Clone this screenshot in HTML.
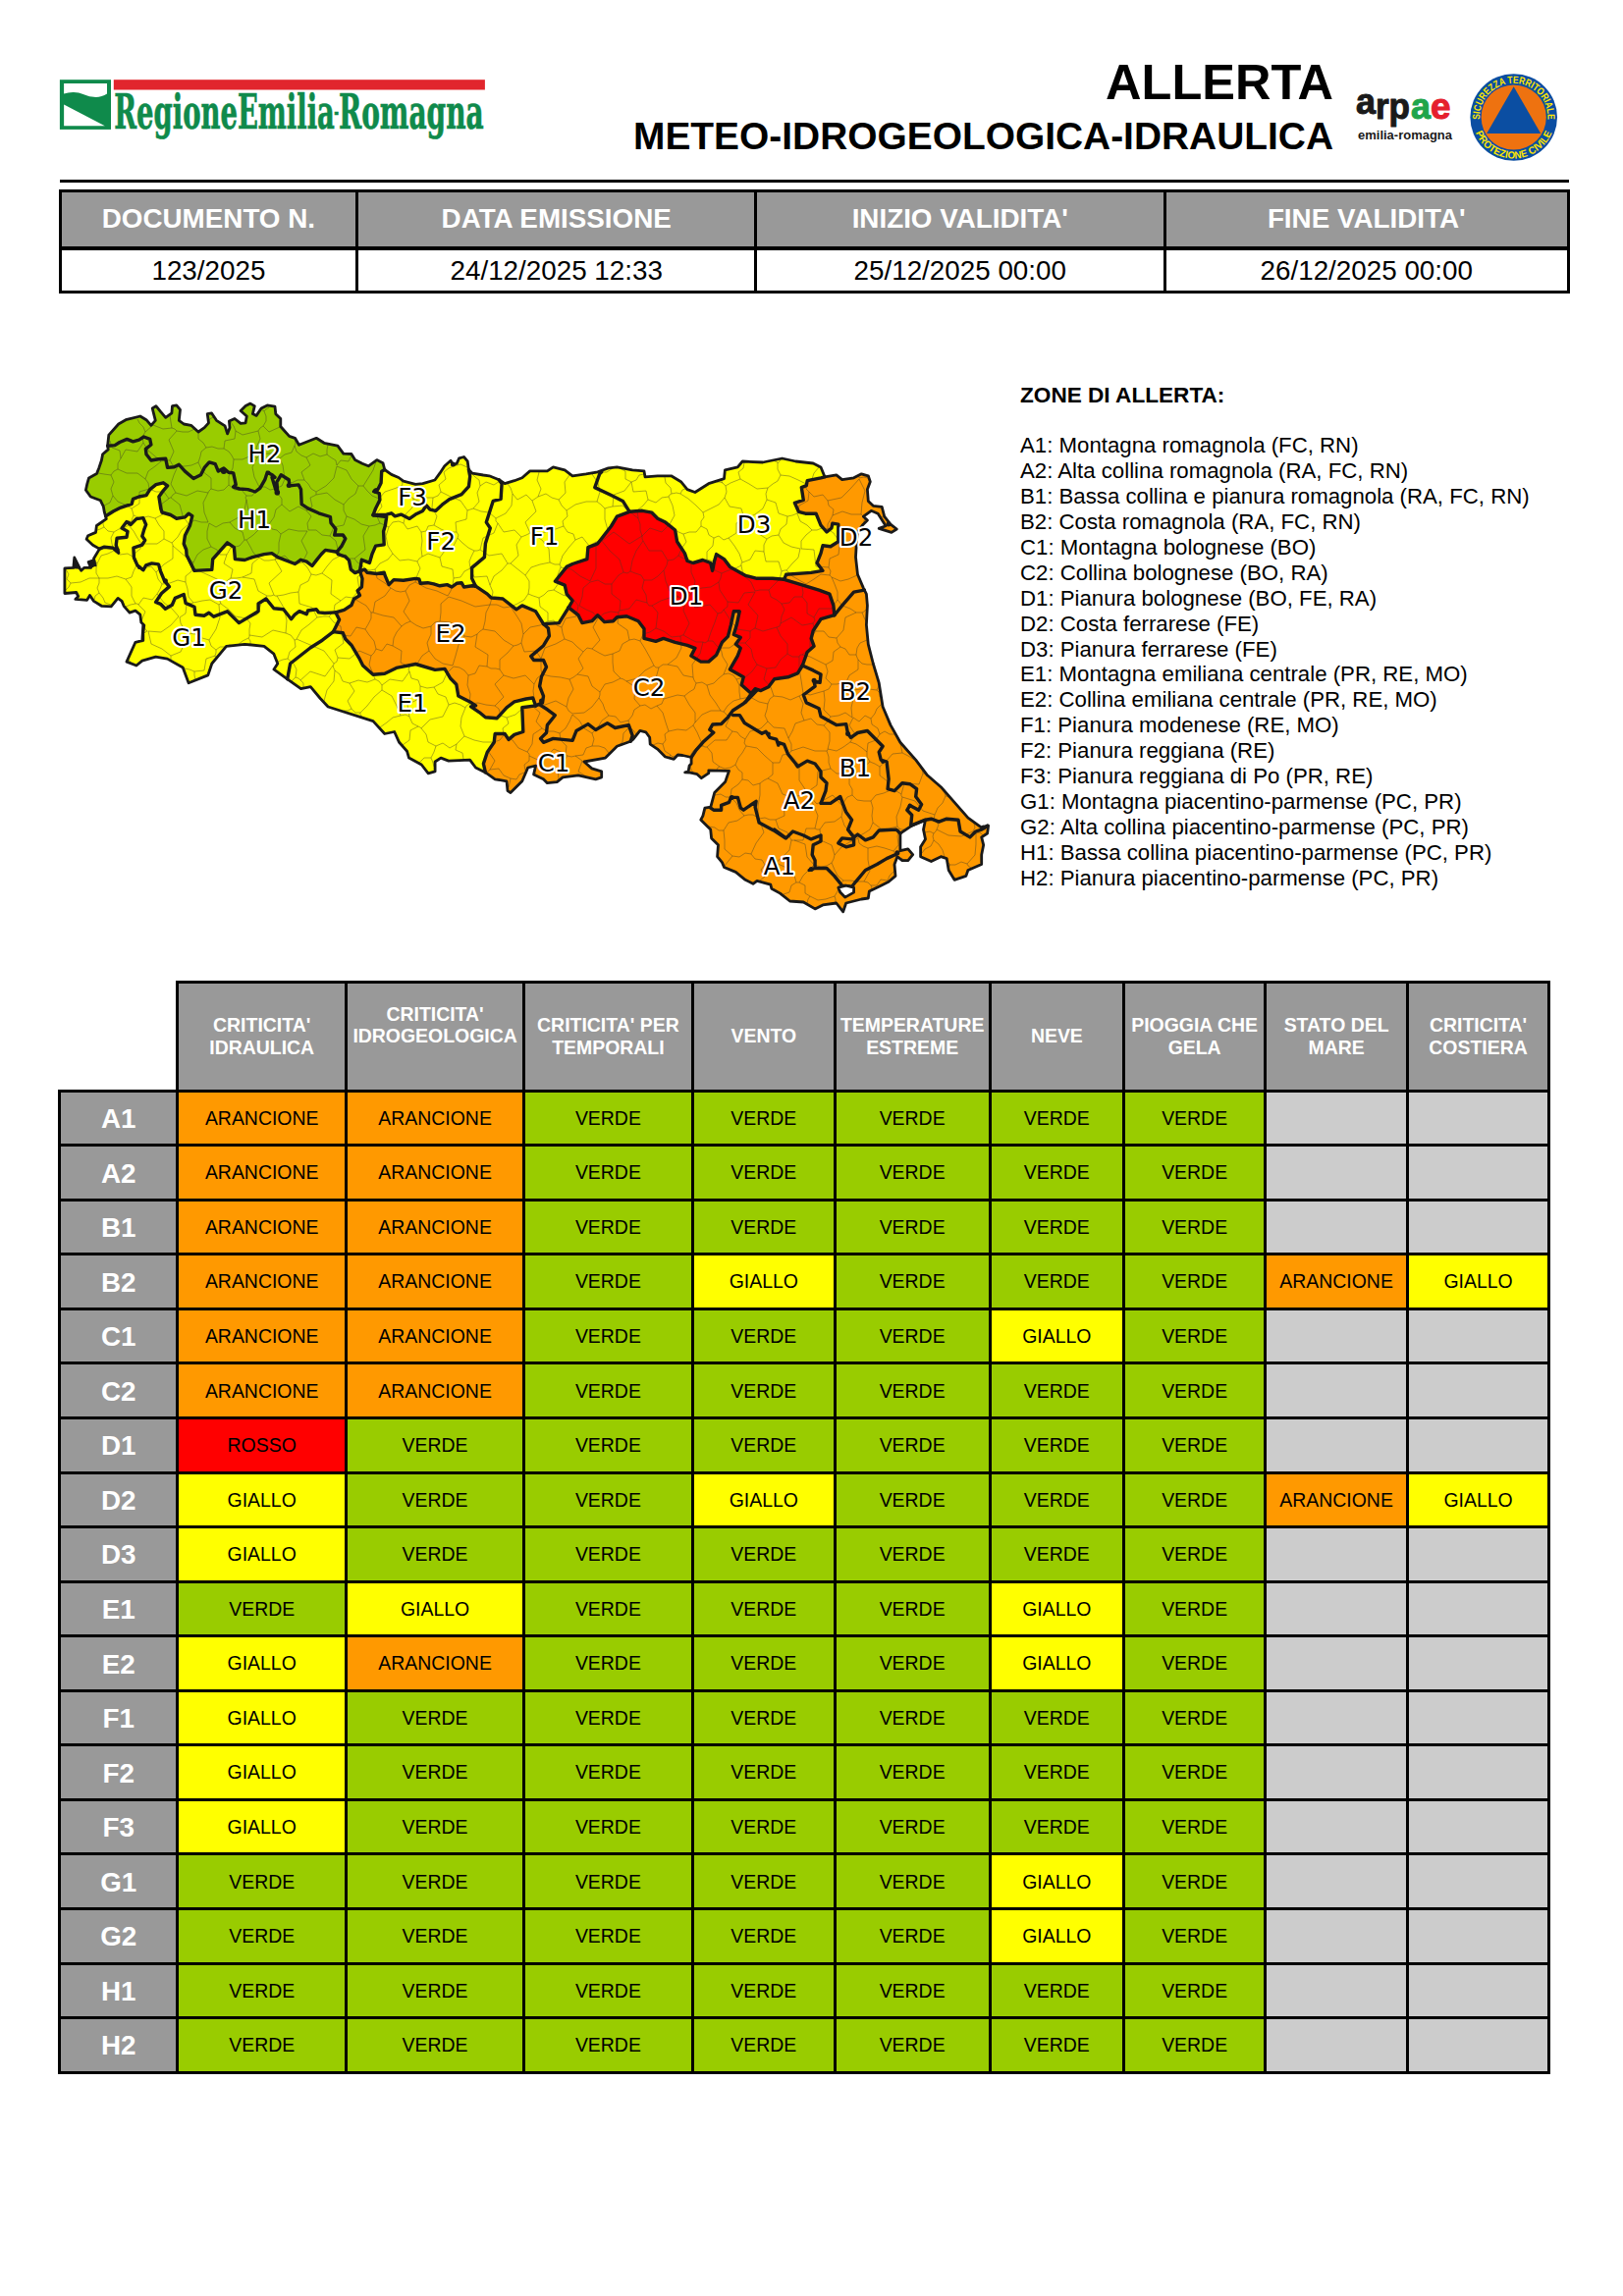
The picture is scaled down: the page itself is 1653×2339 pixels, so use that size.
<!DOCTYPE html>
<html lang="it">
<head>
<meta charset="utf-8">
<title>Allerta meteo-idrogeologica-idraulica</title>
<style>
html,body{margin:0;padding:0;background:#fff;}
body{width:1653px;height:2339px;position:relative;overflow:hidden;font-family:"Liberation Sans",sans-serif;color:#000;}
.abs{position:absolute;}
.c{position:absolute;display:flex;align-items:center;justify-content:center;text-align:center;white-space:nowrap;}
.ln{position:absolute;background:#000;}
.hd{color:#fff;font-weight:bold;}
.t1{font-size:27.8px;}
.th{font-size:19.44px;line-height:22.5px;font-weight:bold;color:#fff;white-space:normal;}
.zn{font-size:27.8px;font-weight:bold;color:#fff;}
.v{font-size:19.45px;}
#zones{position:absolute;left:1039px;top:389.6px;font-size:22.22px;line-height:25.89px;white-space:nowrap;}
#zones b{font-size:22.6px;}
</style>
</head>
<body>
<div class="abs" style="right:295px;top:59px;font-size:50.5px;font-weight:bold;line-height:50px;white-space:nowrap;" id="t_allerta">ALLERTA</div>
<div class="abs" style="right:295px;top:119px;font-size:38.9px;font-weight:bold;line-height:40px;white-space:nowrap;" id="t_meteo">METEO-IDROGEOLOGICA-IDRAULICA</div>
<svg class="abs" style="left:55px;top:75px;" width="450" height="75" viewBox="55 75 450 75">
<rect x="60.9" y="81.2" width="52.1" height="50.7" fill="#0f8a4b"/>
<path d="M65.1,85 H109 V95.6 C104.5,98.6 99,99.6 93.5,98.6 C87,97.4 82,93.6 74.2,93.9 C70.8,94 68,94.8 65.1,95.4 Z" fill="#fff"/>
<path d="M65.1,106.6 L106.8,128.2 H65.1 Z" fill="#fff"/>
<rect x="115.8" y="81.2" width="378.1" height="10.3" fill="#e1262d"/>
<g font-family="'DejaVu Serif',serif" font-stretch="condensed" font-weight="bold" font-size="49.3" fill="#0f8a4b" stroke="#0f8a4b" stroke-width="0.7">
<text x="116.3" y="131.4" textLength="224.6" lengthAdjust="spacingAndGlyphs">RegioneEmilia</text><text x="340.3" y="121.6" font-size="22" textLength="4.8" lengthAdjust="spacingAndGlyphs">-</text><text x="344.9" y="131.4" textLength="147.8" lengthAdjust="spacingAndGlyphs">Romagna</text>
</g>
</svg>
<svg class="abs" style="left:1375px;top:85px;" width="115" height="70" viewBox="1375 85 115 70">
<g font-family="'Liberation Sans',sans-serif" font-weight="bold" font-size="36" stroke-width="1" stroke-linejoin="round">
<text x="1381" y="115.5" fill="#1a1a1a" stroke="#1a1a1a" textLength="20" lengthAdjust="spacingAndGlyphs">a</text>
<text x="1401" y="121" fill="#1a1a1a" stroke="#1a1a1a" textLength="35" lengthAdjust="spacingAndGlyphs">rp</text>
<text x="1437" y="121" fill="#1fa54a" stroke="#1fa54a" textLength="20" lengthAdjust="spacingAndGlyphs">a</text>
<text x="1457" y="121" fill="#e5202e" stroke="#e5202e" textLength="20.5" lengthAdjust="spacingAndGlyphs">e</text>
</g>
<text x="1383" y="142" font-family="'Liberation Sans',sans-serif" font-weight="bold" font-size="12.6" fill="#1a1a1a" textLength="96" lengthAdjust="spacingAndGlyphs">emilia-romagna</text>
</svg>
<svg class="abs" style="left:1490px;top:68px;" width="104" height="104" viewBox="1490 68 104 104">
<circle cx="1541.7" cy="119.5" r="44.3" fill="#0b4ea2"/>
<circle cx="1541.7" cy="119.5" r="33.1" fill="#ee7210"/>
<path d="M1541.7,88.3 L1569.2,135.9 L1514.2,135.9 Z" fill="#0b4ea2"/>
<defs><path id="pc_top" d="M1507.29,123.12 A34.6,34.6 0 1 1 1576.11,123.12"/><path id="pc_bot" d="M1502.23,133.86 A42.0,42.0 0 0 0 1581.17,133.86"/></defs>
<g font-family="'Liberation Sans',sans-serif" font-weight="bold" font-size="10.4" fill="#ffe600" text-anchor="middle">
<text><textPath href="#pc_top" startOffset="50%" textLength="113" lengthAdjust="spacingAndGlyphs">SICUREZZA TERRITORIALE</textPath></text>
<text><textPath href="#pc_bot" startOffset="50%" textLength="99" lengthAdjust="spacingAndGlyphs">PROTEZIONE CIVILE</textPath></text>
</g>
</svg>
<div class="ln" style="left:61px;top:183px;width:1537px;height:3px;"></div>
<div class="abs" style="left:61.0px;top:194.6px;width:1536.5px;height:58.3px;background:#999999;"></div>
<div class="c hd t1" style="left:61.0px;top:195.0px;width:302.8px;height:56.3px;">DOCUMENTO N.</div>
<div class="c t1" style="left:61.0px;top:254.4px;width:302.8px;height:42.3px;">123/2025</div>
<div class="c hd t1" style="left:363.8px;top:195.0px;width:405.8px;height:56.3px;">DATA EMISSIONE</div>
<div class="c t1" style="left:363.8px;top:254.4px;width:405.8px;height:42.3px;">24/12/2025 12:33</div>
<div class="c hd t1" style="left:769.5px;top:195.0px;width:416.5px;height:56.3px;">INIZIO VALIDITA'</div>
<div class="c t1" style="left:769.5px;top:254.4px;width:416.5px;height:42.3px;">25/12/2025 00:00</div>
<div class="c hd t1" style="left:1186.0px;top:195.0px;width:411.5px;height:56.3px;">FINE VALIDITA'</div>
<div class="c t1" style="left:1186.0px;top:254.4px;width:411.5px;height:42.3px;">26/12/2025 00:00</div>
<div class="ln" style="left:59.5px;top:193.1px;width:3px;height:105.6px;"></div>
<div class="ln" style="left:362.2px;top:193.1px;width:3px;height:105.6px;"></div>
<div class="ln" style="left:768.0px;top:193.1px;width:3px;height:105.6px;"></div>
<div class="ln" style="left:1184.5px;top:193.1px;width:3px;height:105.6px;"></div>
<div class="ln" style="left:1596.0px;top:193.1px;width:3px;height:105.6px;"></div>
<div class="ln" style="left:59.5px;top:193.1px;width:1539.5px;height:3px;"></div>
<div class="ln" style="left:59.5px;top:250.7px;width:1539.5px;height:4.4px;"></div>
<div class="ln" style="left:59.5px;top:295.7px;width:1539.5px;height:3px;"></div>
<svg class="abs" style="left:0;top:380px;" width="1040" height="570" viewBox="0 380 1040 570">
<defs><clipPath id="rclip"><path d="M65.9,578.9 74.8,578.4 75.8,568.0 81.2,578.9 82.7,581.3 85.6,578.4 92.5,578.4 90.1,572.5 94.5,571.0 97.0,575.9 95.5,569.0 101.4,559.1 94.5,555.2 88.1,549.3 89.6,545.8 97.5,542.4 98.4,535.5 108.3,528.6 106.3,521.7 105.3,515.8 102.2,509.7 92.3,506.0 87.4,499.2 88.6,493.7 90.5,486.9 98.5,482.6 100.9,476.4 103.4,469.0 104.6,462.8 110.2,457.9 109.6,454.2 110.8,443.1 120.7,432.0 128.1,427.7 142.8,424.0 149.0,427.7 153.9,433.3 158.3,428.3 155.2,416.0 158.9,413.6 163.8,419.7 168.7,425.3 174.9,420.9 175.5,413.6 179.8,412.9 183.5,417.3 182.3,428.3 187.2,432.0 194.6,433.3 202.0,440.0 208.2,435.7 212.5,430.8 211.2,421.6 215.6,420.9 220.5,428.3 229.1,433.9 231.6,441.9 234.0,435.7 233.4,429.0 239.0,426.5 245.1,431.4 250.1,430.8 251.3,424.0 245.1,418.5 250.1,413.6 255.0,411.1 259.3,413.6 257.4,421.6 261.1,423.4 266.1,416.0 272.2,412.9 280.0,414.2 280.8,421.7 285.8,426.6 285.8,434.5 294.6,444.4 300.5,446.3 304.5,453.2 322.2,446.3 330.1,451.3 343.9,454.2 349.8,462.1 357.9,462.5 361.6,468.6 369.0,472.3 375.2,474.8 383.8,468.6 390.0,471.7 391.8,478.5 398.6,483.4 406.0,486.5 410.9,490.2 423.2,493.3 430.6,492.7 442.9,489.0 447.9,482.2 452.8,474.8 459.0,469.2 461.4,473.6 465.1,472.3 467.6,466.8 472.5,465.5 476.2,469.9 477.4,478.5 481.1,482.2 492.2,484.0 498.3,484.8 508.2,488.7 514.1,492.7 523.9,489.7 531.8,486.8 539.7,479.9 557.4,479.9 563.4,475.9 575.2,478.9 583.1,484.8 596.9,482.8 608.7,480.8 619.6,476.9 628.4,475.9 644.2,478.9 656.0,479.9 657.0,485.8 669.8,484.8 683.6,484.8 693.5,490.7 700.0,498.6 707.9,501.5 721.7,492.7 737.5,487.7 738.4,478.9 751.3,475.9 756.2,470.0 776.9,471.0 796.6,467.0 810.4,470.0 828.2,472.0 836.0,475.9 840.0,485.8 851.8,483.8 857.7,488.7 869.6,486.8 877.4,482.8 884.3,484.8 886.3,490.7 883.4,498.6 884.3,510.4 889.3,515.3 898.2,516.3 900.7,526.2 907.0,534.1 913.3,539.0 908.0,542.4 895.2,538.4 902.1,535.7 894.2,523.2 887.3,520.3 879.4,526.2 883.4,530.1 878.4,535.1 873.5,542.0 872.5,549.8 871.5,567.6 873.5,585.3 879.4,599.1 882.4,605.1 883.4,616.9 882.4,636.6 884.3,656.3 889.3,676.0 895.2,695.7 899.1,720.0 907.0,738.6 916.9,756.3 932.7,774.1 944.5,789.8 958.3,801.7 972.1,817.4 985.9,833.2 999.7,843.1 1006.6,841.1 1005.6,849.0 999.7,852.9 1001.7,860.8 999.7,870.7 999.7,880.5 985.9,886.5 983.9,892.4 972.1,896.3 966.2,886.5 964.2,874.6 958.3,872.7 948.4,877.6 937.6,872.7 937.6,862.8 942.5,854.9 940.5,845.1 942.5,835.2 928.7,841.1 916.9,849.0 916.9,866.7 924.8,864.8 929.7,870.7 924.8,876.6 918.9,876.6 913.9,872.7 911.0,880.5 912.0,892.4 905.1,898.3 897.2,902.2 885.3,908.1 884.3,915.0 877.4,916.0 861.7,920.0 858.7,928.8 851.8,920.0 838.0,921.9 830.1,925.9 818.3,919.0 804.5,918.0 794.6,910.1 785.8,905.2 784.8,901.2 771.0,897.3 767.0,900.3 759.1,896.3 749.3,888.4 737.5,883.5 735.5,878.6 730.6,872.7 731.5,860.8 724.6,853.9 723.7,845.1 713.8,835.2 715.9,831.1 717.9,823.2 723.8,822.2 724.8,818.3 727.7,807.5 738.6,796.6 742.5,785.3 721.8,784.8 721.8,787.7 714.4,792.7 710.0,788.7 703.1,787.2 697.7,786.8 701.1,785.8 702.1,779.9 704.1,777.9 704.1,771.5 695.2,769.5 690.3,769.0 686.3,773.4 677.5,771.0 669.6,763.1 662.2,758.2 661.7,751.3 657.7,745.8 651.8,744.4 644.9,753.2 642.2,755.3 628.4,760.3 616.6,772.1 594.9,776.0 602.8,782.9 612.7,785.9 612.7,791.8 606.7,793.8 589.0,789.8 573.2,791.8 567.3,796.7 557.4,797.7 553.5,793.8 543.6,788.9 545.6,780.0 537.7,782.0 531.8,795.8 520.0,807.6 517.0,805.6 516.0,795.8 504.2,793.8 494.4,786.9 484.5,782.0 478.6,774.1 456.9,775.1 449.0,772.1 443.1,776.0 443.1,785.9 436.2,787.9 429.3,779.0 416.5,772.1 414.5,765.2 406.6,756.3 401.7,745.5 391.8,747.5 380.0,734.6 334.1,720.0 326.2,711.5 316.3,699.7 306.5,701.7 292.7,691.8 278.9,681.9 282.8,676.0 278.9,666.2 269.0,658.3 249.3,656.3 230.5,658.3 215.8,676.0 211.8,687.9 192.1,695.7 186.2,680.0 170.4,671.1 158.6,669.1 144.8,673.1 138.9,678.0 129.0,674.1 137.9,654.3 145.8,652.4 145.8,636.6 144.8,652.8 146.8,637.0 143.8,634.1 142.8,626.2 137.9,622.2 132.0,624.2 126.1,617.3 124.1,612.4 120.1,609.4 113.2,617.8 103.4,617.3 95.5,612.4 91.5,606.5 88.6,611.4 76.8,610.4 79.7,607.5 77.7,603.5 65.9,604.5Z"/></clipPath></defs>
<g clip-path="url(#rclip)">
<rect x="0" y="380" width="1040" height="570" fill="#ff9900"/>
<path d="M109.6,454.2 117.0,453.6 121.9,450.5 129.3,447.4 135.5,449.9 141.6,448.1 146.5,445.0 152.7,447.4 153.9,453.0 148.4,457.3 149.0,462.8 153.9,469.0 161.3,467.8 168.7,467.2 170.6,476.4 177.4,475.8 182.3,473.3 188.4,480.1 197.1,487.5 204.5,483.8 208.2,476.4 213.1,470.9 219.2,472.7 222.3,480.1 227.9,477.0 232.8,481.3 237.7,481.9 240.2,493.7 237.7,496.1 243.9,498.0 252.5,498.6 259.9,501.0 264.8,497.4 269.8,488.7 272.2,481.3 277.2,483.8 280.0,486.3 277.0,486.3 280.7,498.6 282.8,502.5 281.9,491.2 286.2,483.8 294.2,488.7 294.8,494.9 304.1,493.9 306.5,498.6 307.2,513.6 313.6,517.9 324.6,522.8 336.4,526.5 337.0,532.7 341.9,538.9 340.7,545.0 349.3,545.0 351.8,548.7 348.1,556.1 343.1,562.3 344.4,564.7 351.8,567.2 355.5,570.9 357.3,580.1 361.6,583.6 366.5,581.7 368.4,570.3 376.4,573.4 378.9,564.7 382.6,556.1 391.2,554.9 390.6,541.3 392.4,535.2 393.7,526.5 380.1,524.7 382.6,517.9 386.9,509.3 386.3,502.5 380.7,500.7 385.0,498.2 388.1,492.0 388.7,480.3 391.8,478.5 400.0,395.0 100.0,395.0 100.0,453.0Z" fill="#99cc00"/>
<path d="M107.7,525.7 115.7,520.8 123.1,517.1 134.2,513.4 135.5,508.4 141.6,506.0 149.0,504.7 152.7,498.6 158.9,493.7 166.3,491.8 170.6,494.9 166.3,499.8 161.9,506.0 163.8,518.3 165.0,522.0 173.7,524.5 179.8,528.2 188.4,526.9 192.1,523.2 195.8,525.7 193.4,535.6 188.4,545.4 187.2,554.0 189.7,560.0 190.1,565.6 198.0,581.4 215.8,580.4 216.7,569.6 231.5,552.8 238.4,557.7 239.4,569.6 249.3,570.5 257.2,567.6 269.0,564.6 276.9,563.6 282.8,567.6 300.5,574.5 306.2,570.3 312.3,572.1 317.9,576.5 322.2,570.9 327.1,564.7 331.4,560.4 343.1,562.3 348.1,556.1 351.8,548.7 349.3,545.0 340.7,545.0 341.9,538.9 337.0,532.7 336.4,526.5 324.6,522.8 313.6,517.9 307.2,513.6 306.5,498.6 304.1,493.9 294.8,494.9 294.2,488.7 286.2,483.8 281.9,491.2 282.8,502.5 280.7,498.6 277.0,486.3 280.0,486.3 277.2,483.8 272.2,481.3 269.8,488.7 264.8,497.4 259.9,501.0 252.5,498.6 243.9,498.0 237.7,496.1 240.2,493.7 237.7,481.9 232.8,481.3 227.9,477.0 222.3,480.1 219.2,472.7 213.1,470.9 208.2,476.4 204.5,483.8 197.1,487.5 188.4,480.1 182.3,473.3 177.4,475.8 170.6,476.4 168.7,467.2 161.3,467.8 153.9,469.0 149.0,462.8 148.4,457.3 153.9,453.0 152.7,447.4 146.5,445.0 141.6,448.1 135.5,449.9 129.3,447.4 121.9,450.5 117.0,453.6 109.6,454.2 70.0,453.0 70.0,522.0Z" fill="#99cc00"/>
<path d="M101.4,559.1 106.3,557.2 115.2,558.2 120.6,563.1 118.2,555.2 119.1,548.3 129.0,547.3 130.0,541.4 124.1,538.0 129.0,531.5 133.0,534.5 138.9,528.6 145.8,527.6 148.7,534.5 146.8,539.4 144.8,546.3 147.7,550.3 144.8,555.2 135.9,558.2 136.4,568.0 139.9,575.9 145.8,580.8 148.7,575.9 154.6,573.9 161.5,574.9 163.5,581.8 167.5,591.7 172.4,597.6 164.5,604.5 158.6,613.4 163.5,615.3 168.4,620.3 175.3,616.3 178.3,609.4 187.2,605.5 189.1,614.4 198.0,618.3 199.0,626.2 207.9,627.2 212.8,624.2 217.7,628.2 231.5,622.8 243.4,634.6 263.1,622.8 263.1,614.9 271.0,610.0 278.9,619.8 288.7,620.8 296.6,630.7 300.0,626.4 304.9,622.7 312.3,625.7 313.6,622.0 322.2,620.8 324.6,623.9 330.8,624.5 341.9,623.9 350.5,621.4 357.9,616.5 360.4,610.3 366.5,606.6 364.1,601.7 368.4,598.0 369.0,589.4 366.5,581.7 361.6,583.6 357.3,580.1 355.5,570.9 351.8,567.2 344.4,564.7 343.1,562.3 331.4,560.4 327.1,564.7 322.2,570.9 317.9,576.5 312.3,572.1 306.2,570.3 300.5,574.5 282.8,567.6 276.9,563.6 269.0,564.6 257.2,567.6 249.3,570.5 239.4,569.6 238.4,557.7 231.5,552.8 216.7,569.6 215.8,580.4 198.0,581.4 190.1,565.6 189.7,560.0 187.2,554.0 188.4,545.4 193.4,535.6 195.8,525.7 192.1,523.2 188.4,526.9 179.8,528.2 173.7,524.5 165.0,522.0 163.8,518.3 161.9,506.0 166.3,499.8 170.6,494.9 166.3,491.8 158.9,493.7 152.7,498.6 149.0,504.7 141.6,506.0 135.5,508.4 134.2,513.4 123.1,517.1 115.7,520.8 107.7,525.7 108.3,528.6 98.4,535.5 97.5,542.4 89.6,545.8 88.1,549.3 94.5,555.2Z" fill="#ffff00"/>
<path d="M341.9,623.9 330.8,624.5 324.6,623.9 322.2,620.8 313.6,622.0 312.3,625.7 304.9,622.7 300.0,626.4 296.6,630.7 288.7,620.8 278.9,619.8 271.0,610.0 263.1,614.9 263.1,622.8 243.4,634.6 231.5,622.8 217.7,628.2 212.8,624.2 207.9,627.2 199.0,626.2 198.0,618.3 189.1,614.4 187.2,605.5 178.3,609.4 175.3,616.3 168.4,620.3 163.5,615.3 158.6,613.4 164.5,604.5 172.4,597.6 167.5,591.7 163.5,581.8 161.5,574.9 154.6,573.9 148.7,575.9 145.8,580.8 139.9,575.9 136.4,568.0 135.9,558.2 144.8,555.2 147.7,550.3 144.8,546.3 146.8,539.4 148.7,534.5 145.8,527.6 138.9,528.6 133.0,534.5 129.0,531.5 124.1,538.0 130.0,541.4 129.0,547.3 119.1,548.3 118.2,555.2 120.6,563.1 115.2,558.2 106.3,557.2 101.4,559.1 50.0,559.0 50.0,740.0 285.0,740.0 292.7,691.8 295.6,676.0 316.0,660.0 328.3,652.2 339.4,643.6 341.3,639.9 345.6,631.3 341.9,623.9Z" fill="#ffff00"/>
<path d="M380.1,524.7 382.6,517.9 386.9,509.3 386.3,502.5 380.7,500.7 385.0,498.2 388.1,492.0 388.7,480.3 391.8,478.5 392.0,440.0 480.0,440.0 477.4,478.5 478.7,485.3 477.4,495.7 470.1,503.7 457.7,508.7 450.3,514.2 443.6,520.4 438.0,519.1 434.3,514.8 430.6,520.4 423.2,524.1 417.1,528.4 408.4,524.1 402.3,525.9 398.6,522.8 393.7,524.1 380.1,524.7Z" fill="#ffff00"/>
<path d="M380.1,524.7 393.7,524.1 398.6,522.8 402.3,525.9 408.4,524.1 417.1,528.4 423.2,524.1 430.6,520.4 434.3,514.8 438.0,519.1 443.6,520.4 450.3,514.2 457.7,508.7 470.1,503.7 477.4,495.7 478.7,485.3 477.4,478.5 478.0,440.0 510.0,440.0 508.2,488.7 511.1,492.7 510.1,508.4 502.2,510.4 495.3,532.1 499.3,538.0 494.4,553.8 493.4,567.6 480.6,578.4 480.6,589.3 484.5,597.2 481.1,596.8 472.5,598.0 470.1,593.7 465.1,594.3 460.2,598.0 455.3,595.6 447.9,596.8 441.7,594.9 435.6,593.7 428.2,594.3 426.9,590.0 423.2,589.4 410.9,591.2 401.0,590.6 396.1,595.6 392.4,586.9 391.2,583.2 383.8,584.5 373.9,583.2 371.5,580.1 366.5,581.7 368.4,570.3 376.4,573.4 378.9,564.7 382.6,556.1 391.2,554.9 390.6,541.3 392.4,535.2 393.7,526.5 380.1,524.7Z" fill="#ffff00"/>
<path d="M484.5,597.2 480.6,589.3 480.6,578.4 493.4,567.6 494.4,553.8 499.3,538.0 495.3,532.1 502.2,510.4 510.1,508.4 511.1,492.7 508.2,488.7 508.0,440.0 615.0,440.0 612.7,480.8 610.7,482.8 605.8,496.6 622.5,504.5 634.3,510.4 641.2,521.3 628.4,526.2 622.5,536.0 608.7,553.8 598.9,557.7 597.9,569.6 583.1,574.5 577.2,577.4 565.3,592.2 575.2,596.2 577.2,605.1 583.1,612.0 579.1,618.9 569.3,634.6 553.5,635.6 545.6,622.8 531.8,616.9 525.9,620.8 512.1,610.0 500.3,609.0 496.3,605.1 484.5,597.2Z" fill="#ffff00"/>
<path d="M366.5,581.7 371.5,580.1 373.9,583.2 383.8,584.5 391.2,583.2 392.4,586.9 396.1,595.6 401.0,590.6 410.9,591.2 423.2,589.4 426.9,590.0 428.2,594.3 435.6,593.7 441.7,594.9 447.9,596.8 455.3,595.6 460.2,598.0 465.1,594.3 470.1,593.7 472.5,598.0 481.1,596.8 484.5,597.2 496.3,605.1 500.3,609.0 512.1,610.0 525.9,620.8 531.8,616.9 545.6,622.8 553.5,635.6 558.4,640.0 559.4,647.9 553.5,657.7 540.7,668.6 543.6,672.5 553.5,672.5 556.5,679.4 551.5,689.3 549.6,699.1 553.5,709.0 552.5,715.9 545.6,718.9 542.7,711.0 535.8,712.0 523.9,714.9 516.0,720.8 506.2,731.7 494.4,730.7 488.4,725.8 479.6,719.9 484.5,718.9 478.6,714.9 466.8,709.0 464.8,697.2 458.9,691.3 453.0,681.4 443.1,682.4 423.4,676.5 403.7,680.4 391.8,686.3 380.0,687.3 369.6,678.0 365.6,670.1 357.9,657.2 351.8,651.0 349.3,644.8 339.4,643.6 341.3,639.9 345.6,631.3 341.9,623.9 350.5,621.4 357.9,616.5 360.4,610.3 366.5,606.6 364.1,601.7 368.4,598.0 369.0,589.4 366.5,581.7Z" fill="#ff9900"/>
<path d="M339.4,643.6 349.3,644.8 351.8,651.0 357.9,657.2 365.6,670.1 369.6,678.0 380.0,687.3 391.8,686.3 403.7,680.4 423.4,676.5 443.1,682.4 453.0,681.4 458.9,691.3 464.8,697.2 466.8,709.0 478.6,714.9 484.5,718.9 479.6,719.9 488.4,725.8 494.4,730.7 506.2,731.7 516.0,720.8 523.9,714.9 535.8,712.0 542.7,711.0 545.6,718.9 531.8,720.8 532.8,745.5 523.9,748.4 518.0,753.4 514.1,747.5 504.2,747.5 503.2,756.3 496.3,766.2 492.4,778.0 494.4,786.9 490.0,830.0 280.0,830.0 280.0,700.0 292.7,691.8 295.6,676.0 316.0,660.0 328.3,652.2 339.4,643.6Z" fill="#ffff00"/>
<path d="M641.2,521.3 654.1,520.3 663.9,522.2 669.8,528.2 677.7,532.1 687.6,540.0 689.6,551.8 697.4,563.6 700.0,571.5 705.9,573.5 715.8,570.5 723.7,573.5 725.6,581.4 727.6,571.5 729.6,564.6 737.5,569.6 743.4,577.4 759.1,586.3 771.0,589.3 786.8,589.3 798.6,590.3 800.6,585.3 826.2,583.4 838.0,581.4 832.1,573.5 836.0,563.6 838.0,555.8 845.9,556.7 853.8,551.8 853.8,534.1 847.9,533.1 846.9,538.0 842.0,542.0 836.0,535.1 831.1,523.2 820.3,523.2 813.4,521.3 809.4,512.4 818.3,509.4 816.3,496.6 821.3,494.6 822.2,489.7 836.0,486.8 840.0,485.8 845.0,400.0 610.0,400.0 612.7,480.8 610.7,482.8 605.8,496.6 622.5,504.5 634.3,510.4 641.2,521.3Z" fill="#ffff00"/>
<path d="M579.1,618.9 583.1,612.0 577.2,605.1 575.2,596.2 565.3,592.2 577.2,577.4 583.1,574.5 597.9,569.6 598.9,557.7 608.7,553.8 622.5,536.0 628.4,526.2 641.2,521.3 654.1,520.3 663.9,522.2 669.8,528.2 677.7,532.1 687.6,540.0 689.6,551.8 697.4,563.6 700.0,571.5 705.9,573.5 715.8,570.5 723.7,573.5 725.6,581.4 727.6,571.5 729.6,564.6 737.5,569.6 743.4,577.4 759.1,586.3 771.0,589.3 786.8,589.3 798.6,590.3 814.4,595.2 834.1,601.1 844.9,605.1 848.9,616.9 849.8,626.7 836.0,630.7 828.2,642.5 826.2,650.4 829.1,658.3 822.2,664.2 817.3,678.0 812.4,685.9 802.5,689.8 788.7,691.8 782.8,699.7 774.9,703.6 769.0,701.7 765.1,706.6 755.2,697.7 757.2,689.8 743.4,681.9 751.3,668.1 754.2,660.3 749.3,656.3 754.2,649.4 747.3,646.5 750.3,636.6 753.2,622.8 747.3,622.8 744.4,636.6 741.4,648.4 735.5,654.3 729.6,667.2 721.7,674.1 713.8,674.1 703.9,668.1 707.9,660.3 700.0,657.3 687.6,654.3 675.7,650.4 667.9,653.4 656.0,650.4 656.0,640.5 650.1,632.7 638.3,627.7 628.4,628.7 624.5,632.7 615.6,633.6 608.7,626.7 602.8,632.7 592.9,634.6 589.0,626.7 579.1,618.9Z" fill="#ff0000"/>
<path d="M869,703 866,699 861,697M869,703 877,702 885,702 893,703M861,697 865,688 874,682 874,672M874,672 878,676 883,677 888,677M893,703 894,701 895,699M904,897 897,896 893,902 887,902M887,902 888,904 887,906M904,897 906,892 911,887 910,881M884,864 893,862 901,864 910,867M884,864 884,876 886,887 880,898M880,898 884,899 887,902M913,873 912,870 910,867M898,717 893,722 891,727 887,732M887,732 888,738 894,742 896,748M896,748 901,745 906,748 911,748M869,703 869,712 867,721 868,731M893,703 896,706 896,710M869,731 875,735 881,729 887,732M883,766 884,757 892,754 896,748M883,766 878,762 872,758 866,756M866,756 871,748 865,739 869,731M931,774 925,770 919,767M919,767 918,762 917,758M160,605 155,611 146,609 141,616M160,605 163,600 165,595M141,616 140,615 138,615M128,590 134,598 134,607 138,615M128,590 134,588 136,582 139,576M139,576 146,579 154,577 159,583M165,595 161,590 159,583M99,574 98,579 98,584 101,589M99,574 103,566 110,564 116,561M128,590 119,587 110,589 101,589M139,576 138,572 137,568M116,561 122,565 130,564 137,568M353,526 350,520 350,514M353,526 350,535 340,537 336,546M350,514 341,509 333,502 322,504M336,546 328,545 322,540 314,540M314,540 313,533 317,526 312,520M322,504 316,507 318,516 312,520M365,495 362,503 355,508 350,514M365,495 358,488 353,479 343,475M343,475 340,487 332,495 322,501M322,501 322,502 322,504M313,541 307,551 313,563 308,573M313,541 304,541 294,539 286,544M308,573 299,575 290,566 280,570M286,544 284,553 284,562 280,570M861,697 857,696 852,697 847,697M874,672 873,670 872,667M841,677 843,684 841,691 847,697M841,677 848,673 849,664 856,659M856,659 861,661 865,667 872,667M574,536 563,540 552,543 540,543M574,536 578,542 584,544 586,550M586,550 579,558 573,566 570,575M540,543 552,550 559,559 560,573M560,573 565,575 570,575M940,788 936,799 921,798 918,809M940,788 939,784 937,782M918,809 913,806 907,805M919,767 909,768 903,775 896,781M907,805 904,796 896,790 896,781M883,766 883,771 886,776M896,781 891,778 886,776M322,501 317,498 314,493 310,489M343,474 342,469 337,466 333,463M333,463 326,465 319,462 312,466M312,466 316,474 307,481 310,489M880,898 873,898 866,897 859,897M859,897 855,902 853,908 850,913M850,913 851,916 851,919M850,913 841,916 833,917 825,913M822,920 823,916 825,913M939,869 942,865 948,862 951,856M951,856 956,860 960,866 962,873M966,879 967,880 968,881M968,881 967,882 967,883M918,874 921,876 924,876M914,842 915,843 916,844M914,842 913,832 917,822 919,812M916,844 918,845 921,845M942,848 947,847 951,849M919,812 932,816 940,826 952,830M952,830 951,835 956,840 954,845M954,845 953,847 951,849M910,867 915,861 914,852 916,844M951,856 950,852 951,849M940,788 941,788 942,788M918,809 918,811 919,812M963,811 962,808 960,805M963,811 960,818 955,823 952,830M991,847 993,843 992,839M991,847 979,852 966,851 954,845M963,811 964,811 966,812M968,881 973,881 979,878 985,880M985,880 986,882 989,884M991,847 992,848 994,849M985,880 993,871 994,860 994,849M1001,851 998,848 994,849M866,756 859,761 852,765 843,763M886,776 879,782 874,789 865,793M846,783 852,788 860,788 865,793M846,783 844,777 844,771 842,765M842,765 843,764 843,763M839,704 832,706 825,708 818,706M839,704 840,713 839,723 846,730M819,734 826,732 832,738 839,739M819,734 816,726 818,717 814,709M814,709 816,708 818,706M846,730 843,735 839,739M817,667 825,669 833,673 841,677M817,667 815,667 814,669M847,697 844,702 839,704M814,669 814,681 816,693 818,706M868,731 861,726 854,729 846,730M806,765 806,758 803,752M806,765 818,761 830,765 842,765M803,752 807,745 810,737 819,734M843,763 845,755 845,746 839,739M165,595 173,594 181,591 189,593M159,583 167,575 176,569 176,556M189,593 189,587 194,583 197,579M197,579 196,576 197,573M197,573 190,568 183,562 176,556M137,568 138,563 143,559 144,554M175,553 176,555 176,556M175,553 171,551 167,549M167,549 160,554 152,554 144,554M174,507 183,514 186,525 192,534M174,507 176,504 179,502M192,534 198,530 205,532 212,532M212,532 208,522 207,512 212,502M212,502 201,500 190,505 179,502M96,611 97,607 101,604M67,601 70,598 72,594M72,594 82,593 91,589 101,589M101,589 101,594 99,599 101,604M113,616 107,614 105,609 101,604M67,580 70,585 68,590 72,594M99,574 98,573 97,571M138,615 133,616 128,618M312,520 304,516 295,521 287,514M286,544 282,540 277,539 274,534M274,534 279,527 281,519 287,514M290,488 297,492 303,489 310,489M290,488 287,495 280,498M287,514 287,508 283,503 280,498M872,667 873,660 876,655 883,652M817,667 825,661 825,650 831,643M856,659 853,655 852,650M831,643 839,643 844,649 852,650M878,624 880,629 882,633M878,624 875,624 872,624M852,650 859,642 861,629 872,624M754,488 749,490 744,492 739,495M754,488 763,493 771,498 782,497M739,495 740,501 738,507M782,497 780,503 781,509M781,509 777,518 769,524 761,528M738,507 743,516 755,518 758,528M761,528 760,528 758,528M577,520 586,514 597,511 608,511M577,520 578,526 573,531 574,536M586,550 593,547 600,556 607,552M607,552 610,552 611,551M611,551 619,540 616,529 616,518M616,518 612,514 608,511M542,510 545,508 548,506M542,510 546,521 535,532 540,543M577,520 572,515 569,509M548,506 556,503 562,507 569,509M570,575 571,577 571,578M607,552 607,566 607,579 601,592M571,578 582,580 591,587 601,592M696,544 691,542 686,539 682,534M696,544 702,542 709,542 714,536M716,522 717,527 714,531 714,536M716,522 709,515 701,508 693,503M682,534 687,525 685,515 681,506M681,506 682,504 684,503M693,503 689,502 684,503M887,816 880,816 873,815 868,810M887,816 889,823 888,831 889,838M868,810 863,812 860,816 858,821M889,838 886,845 880,849 874,852M874,852 866,848 860,841 857,832M858,821 858,827 857,832M907,805 900,808 892,810 887,816M865,793 865,799 868,804 868,810M914,842 905,844 897,844 889,838M884,864 879,862 875,859 874,854M874,854 874,853 874,852M809,856 820,860 822,873 829,881M809,856 818,856 821,844 830,844M830,844 832,845 835,845M835,845 836,856 847,861 850,871M829,881 836,883 842,882 847,879M850,871 849,875 847,879M874,854 865,858 857,863 850,871M857,832 850,837 840,838 835,845M859,897 853,892 850,886 847,879M825,913 820,910 820,902 814,899M814,899 818,892 824,886 829,881M814,899 813,899 811,899M811,899 806,902 804,909 798,911M806,856 804,866 797,873 790,879M806,856 807,856 809,856M811,899 808,888 799,883 790,879M312,466 307,464 302,460 300,454M290,488 289,481 288,474 285,467M285,467 290,463 297,461 300,454M365,495 368,495 370,495M353,526 361,529 368,534 376,536M370,495 374,500 379,505 386,508M376,536 382,535 387,533M386,508 389,516 383,524 387,533M400,564 407,571 416,570 425,572M400,564 395,556 393,546 396,537M425,572 427,569 430,567M411,533 406,531 400,532 396,537M411,533 415,539 425,536 429,542M430,567 429,559 430,551 429,542M542,510 536,504 527,509 522,503M522,503 521,515 515,523 505,528M540,543 536,545 531,547M531,547 524,540 513,542 507,533M505,528 505,531 507,533M430,567 436,564 442,566 448,568M448,568 453,561 462,556 466,548M429,542 434,541 436,536 442,535M442,535 449,539 456,542 465,542M466,548 467,545 465,542M803,752 799,742 788,741 782,735M814,709 805,713 797,710 788,709M782,735 779,729 781,723 782,717M788,709 784,712 782,717M858,821 848,810 832,819 822,808M830,844 833,831 828,819 822,808M806,765 805,766 804,768M782,735 775,742 764,745 759,753M759,753 758,757 760,760M760,760 771,762 779,770 787,777M804,768 797,769 794,777 787,777M846,783 833,786 832,800 822,807M804,768 814,779 814,795 822,807M174,507 173,507 172,508M192,534 185,540 181,547 175,553M167,549 167,541 162,535 158,528M172,508 165,513 166,524 158,528M233,494 233,485 237,477 238,468M233,494 239,499 246,499 251,505M251,505 257,505 260,500 264,496M264,496 259,486 257,476 262,466M238,468 247,468 254,465 262,466M264,496 270,496 275,499 280,498M285,467 279,462 272,462 264,464M262,466 263,465 264,464M520,793 519,798 518,802M520,793 526,794 529,789 534,787M503,756 492,756 483,754 473,750M503,756 497,765 504,775 499,784M472,773 471,767 464,764 465,758M465,758 469,754 473,750M499,784 497,786 495,786M520,793 513,790 508,783 499,784M308,573 313,578 317,585M336,546 342,551 344,559 347,566M317,585 322,586 328,584M328,584 333,577 339,570 347,566M376,536 370,546 372,560 361,569M347,566 352,565 356,569 361,569M274,534 272,533 270,533M251,505 250,507 251,509M251,509 253,520 266,524 270,533M280,570 274,571 269,571 264,568M264,568 258,563 255,557 251,550M270,533 264,539 258,545 251,550M758,471 757,477 752,481 754,488M795,484 792,490 787,493 782,497M795,484 792,478 792,472M792,472 791,470 789,470M878,624 880,623 882,621M847,588 856,592 864,590 873,586M847,588 850,595 853,603 853,611M872,624 866,620 858,617 853,611M759,753 754,750 751,746 746,745M760,760 756,767 752,772 749,779M746,745 740,754 728,754 720,761M720,761 725,767 726,776 733,781M749,779 744,782 738,783 733,781M831,643 829,639 828,635M853,611 847,620 834,620 829,629M828,635 830,632 829,629M721,653 724,644 728,634 731,625M721,653 718,655 716,654M731,625 723,616 708,619 700,610M699,610 696,622 702,635 696,647M716,654 709,654 703,651 696,647M699,610 695,610 691,608M668,640 669,632 670,624 664,617M668,640 676,643 684,649 693,648M691,608 682,609 673,612 664,617M693,648 695,647 696,647M759,655 765,661 767,670 771,677M759,655 764,650 764,643M764,643 767,641 769,640M769,640 777,643 784,641 791,639M791,639 795,648 802,656 802,666M802,666 795,672 790,680 781,681M781,681 776,679 771,677M721,653 726,653 730,658 734,660M731,625 735,624 737,621M734,660 743,660 750,655 759,655M737,621 744,632 751,641 764,643M814,669 807,669 802,666M795,635 806,629 817,637 828,635M795,635 794,638 791,639M788,709 785,700 778,692 781,681M735,489 735,491 736,492M736,492 733,491 730,491M739,495 737,493 736,492M738,507 732,514 724,518 716,522M693,503 695,499 698,498M696,544 699,552 694,559 691,566M691,566 696,569 701,569 704,574M714,536 720,539 722,545 727,548M704,574 710,573 715,571 720,570M720,570 720,562 726,556 727,548M758,528 750,533 750,543 742,548M727,548 732,546 737,550 742,548M761,528 768,535 773,544 781,549M778,562 778,555 781,549M778,562 769,561 764,570 756,573M742,548 748,556 753,564 756,573M624,516 625,504 636,500 643,491M624,516 634,515 642,522 650,528M643,491 645,501 658,500 660,509M650,528 649,520 655,515 660,509M616,518 619,517 624,516M654,546 652,540 652,534 650,528M654,546 641,554 625,542 613,551M654,546 662,538 674,542 682,534M681,506 674,507 668,512 660,509M579,483 579,483 580,484M548,506 551,498 547,489 549,481M569,509 576,502 575,491 580,484M603,483 609,492 611,501 608,511M560,573 550,575 541,578 535,586M531,547 526,555 528,566 520,574M535,586 530,582 525,578 520,574M623,595 616,595 609,591 601,593M623,595 623,605 632,612 631,622M601,593 594,599 593,608 590,617M590,617 597,621 604,624 609,630M609,630 615,625 622,623 630,624M631,622 630,623 630,624M613,551 621,561 631,570 635,583M635,583 630,586 626,591 623,595M668,640 662,644 655,646 652,653M641,652 639,642 629,635 630,624M641,652 646,651 652,653M659,614 661,617 664,617M659,614 648,611 641,620 631,622M655,551 648,561 644,571 642,582M655,551 661,561 674,561 680,571M680,571 679,576 676,581M676,581 670,587 664,591 656,591M656,591 653,586 647,584 642,582M654,546 654,549 655,551M635,583 639,584 642,582M691,566 686,570 680,571M700,610 703,606 706,601M706,601 708,592 704,583 704,574M691,608 682,602 678,592 676,581M659,614 658,606 654,599 656,591M215,498 215,487 206,480 202,471M215,498 222,500 228,499 233,494M228,457 233,460 236,464 238,468M228,457 222,457 216,455 210,456M210,456 205,460 204,465 202,471M212,502 213,500 215,498M179,502 174,493 177,484 181,475M202,471 195,474 188,475 181,475M123,467 128,458 140,460 146,451M123,467 122,459 114,456 112,449M146,451 145,445 148,440M148,440 146,435 142,431 140,427M343,474 347,469 355,470 358,464M333,463 333,458 334,453M300,454 301,451 300,447M411,533 413,524 420,517 421,508M442,535 445,526 440,517 441,507M441,507 434,507 428,511 421,508M386,508 392,501 401,498 409,495M387,533 392,535 396,537M421,508 417,504 412,500 409,495M792,472 794,470 795,468M782,717 773,715 764,710 754,712M746,745 739,740 743,731 737,725M737,725 741,719 747,714 754,712M771,677 766,684 759,690 750,692M754,712 753,705 753,698 750,692M734,660 736,669 741,677 737,687M737,687 742,686 747,688 750,692M806,856 802,848 793,844 790,835M822,808 817,810 812,811 808,813M790,835 799,831 798,817 808,813M787,777 787,783 787,789 782,793M808,813 797,809 792,798 782,793M99,540 102,539 106,537M105,532 105,534 106,537M116,561 114,554 113,548 116,542M106,537 110,541 116,542M144,554 140,548 136,541 131,535M116,542 121,539 126,538 131,535M158,528 151,526 143,528 136,525M131,535 134,530 136,525M228,457 229,449 239,447 240,439M264,464 261,456 265,447 263,439M263,439 255,441 247,443 240,439M202,441 202,447 207,451 210,456M212,429 215,426 218,425M240,439 238,434 235,430M465,758 458,762 451,757 444,760M442,781 441,777 439,772M439,772 442,766 444,760M545,718 544,711 543,704 544,697M545,718 555,718 566,714 577,720M552,687 547,691 544,697M552,687 561,689 571,690 580,692M580,692 584,702 579,711 577,720M279,606 280,607 282,607M279,606 276,607 272,607M282,607 289,619 292,632 291,645M272,607 266,615 262,626 251,630M291,645 278,642 267,649 254,647M254,647 254,641 255,635 251,630M280,570 287,582 274,594 279,606M317,585 314,592 306,596 304,603M304,603 296,604 289,606 282,607M264,568 257,574 256,584 247,588M247,588 259,590 263,602 272,607M304,603 305,615 318,619 323,629M323,629 315,636 307,642 302,651M300,652 296,647 291,645M300,652 301,652 302,651M247,588 241,589 235,589M229,594 229,601 222,607 225,615M229,594 232,591 235,589M225,615 233,621 240,628 251,630M400,564 395,570 387,574 382,580M361,569 364,573 369,576 372,580M382,580 377,581 372,580M231,565 235,558 244,556 249,550M231,565 224,565 221,560 215,557M249,550 247,542 239,538 234,532M215,557 211,549 211,541 213,533M213,533 220,537 227,533 234,532M235,589 237,580 228,574 231,565M251,550 250,550 249,550M197,579 208,584 219,589 229,594M197,573 201,565 207,560 215,557M251,509 249,520 243,527 234,532M160,605 167,614 175,620 182,628M141,616 148,623 143,635 150,643M182,628 174,637 164,644 151,643M150,643 148,644 147,645M131,672 132,673 133,675M189,593 191,600 192,608 197,614M183,629 189,625 190,616 197,614M225,615 224,615 223,616M197,614 206,612 214,611 223,616M652,653 657,661 662,670 666,678M666,678 668,680 671,680M693,648 694,660 689,670 680,677M671,680 675,677 680,677M716,654 713,666 705,677 706,690M680,677 690,679 696,688 706,690M783,601 785,608 791,611 796,615M783,601 789,595 794,590 796,582M796,615 804,614 809,608 817,608M796,582 799,581 801,581M801,581 807,587 814,591 821,595M821,595 817,598 818,604 817,608M795,635 796,628 799,621 796,615M829,629 822,625 822,614 817,608M847,588 846,587 845,586M845,586 836,585 829,590 821,595M741,613 752,614 758,604 769,603M741,613 737,607 733,601 732,593M755,576 749,579 742,581 735,584M755,576 757,586 765,593 769,602M732,593 734,589 735,584M737,621 741,618 741,613M769,640 772,627 762,616 769,603M706,601 715,599 724,598 732,593M720,570 727,572 728,581 735,584M756,573 755,574 755,576M778,562 780,572 793,572 796,582M783,601 778,601 774,601 769,602M781,549 786,546 793,545M801,581 807,574 813,568 815,559M793,545 798,553 806,557 815,559M781,509 790,512 793,523 802,526M793,545 795,539 801,534 802,526M507,533 503,543 492,548 489,560M520,574 519,574 517,574M517,574 511,564 498,566 489,560M684,503 683,497 678,492 677,486M706,787 704,784 703,780M688,770 685,771 683,769M683,769 682,770 682,771M720,761 718,761 716,760M716,760 710,761 706,765 703,770M733,781 731,782 730,784M641,741 645,744 648,748M641,741 635,747 634,756 627,761M665,759 670,757 675,758M675,758 677,765 683,769M620,729 613,734 609,741 603,747M620,729 616,723 614,717 610,711M610,711 603,720 595,726 583,727M603,747 595,742 590,734 583,728M641,741 641,738 640,734M640,734 632,736 627,730 620,729M620,767 616,762 610,760 603,760M603,747 605,753 603,760M597,791 589,786 593,775 586,770M569,794 568,784 573,777 578,770M578,770 582,771 586,770M603,760 597,762 594,769 586,770M175,436 174,430 173,423M175,436 178,437 180,439M180,439 186,440 192,440 198,437M148,440 156,433 166,437 175,436M146,451 151,459 157,464 164,470M164,470 168,469 173,469M173,469 177,460 172,448 180,439M181,475 176,474 173,469M465,542 464,532 475,529 476,520M441,507 446,505 449,501M449,501 459,506 469,510 476,520M505,528 498,522 490,521 482,518M466,548 471,553 477,558 483,561M483,561 486,561 489,560M482,518 479,519 476,520M370,495 375,487 380,479 383,470M409,495 410,493 409,490M795,484 804,485 813,489 821,493M812,523 807,525 802,526M812,523 814,515 823,510 824,501M824,501 821,498 821,493M790,879 785,880 779,881M790,835 784,835 779,833 773,834M779,881 776,876 769,875 765,870M773,834 778,848 770,859 765,870M722,842 728,843 732,846 737,846M738,882 742,877 746,872M737,846 738,856 738,865 746,872M134,518 127,514 120,511 115,505M134,518 142,513 142,501 152,498M148,488 140,482 129,482 120,478M148,488 151,492 152,498M115,505 113,498 116,491 113,484M113,484 116,480 120,478M106,515 112,512 115,505M136,525 135,521 134,518M172,508 167,501 159,501 152,498M123,467 120,472 120,478M164,470 158,475 151,480 148,488M100,482 106,483 113,484M269,419 271,424 271,429 268,434M269,419 271,417 274,415M268,434 274,440 285,435 291,442M263,439 265,436 268,434M267,418 268,418 269,419M439,772 432,772 427,777M429,742 434,748 436,756 444,760M429,742 428,741 426,740M426,740 418,744 417,754 410,759M588,687 599,689 603,699 611,705M588,687 594,681 589,671 594,664M594,664 598,660 603,661M603,661 610,665 616,668 624,666M624,666 624,675 625,684 632,691M632,691 624,695 616,697 611,705M610,711 611,708 611,705M580,692 584,690 588,687M577,720 579,724 583,727M641,652 634,656 631,663 624,666M609,630 604,639 611,652 603,661M638,694 649,691 657,683 666,678M638,694 635,692 632,691M640,734 644,729 646,723 652,719M638,694 647,700 646,712 652,719M423,593 425,586 428,579 425,572M423,593 417,596 413,602M382,580 384,589 392,594 398,599M413,602 408,603 403,602 398,599M328,584 338,591 337,605 347,612M372,580 364,588 366,601 359,609M347,612 352,608 359,609M323,629 329,628 335,628M347,612 341,616 340,623 335,628M737,725 736,725 734,724M737,687 732,691 727,696 720,698M734,724 729,716 723,708 720,698M706,690 707,693 709,696M720,698 715,695 709,696M812,523 815,531 822,535 827,540M827,540 821,545 816,551 816,559M845,586 846,582 844,578M816,559 829,560 831,577 844,578M571,578 568,586 569,594 564,601M589,617 583,609 573,606 564,601M535,586 539,592 539,599 538,605M538,605 543,607 549,609M564,601 558,602 554,606 549,609M656,483 651,484 648,489 643,491M643,491 637,488 637,480 631,477M603,483 605,482 607,482M612,481 618,481 624,477M779,881 775,886 779,893 774,897M765,870 759,869 753,873 746,872M570,747 571,754 577,760 576,768M570,747 564,745 557,745 552,742M576,768 564,763 552,776 539,770M552,742 543,748 542,758 537,766M539,770 539,768 537,766M583,728 580,735 576,742 570,747M578,770 577,769 576,768M545,718 544,719 543,720M543,720 550,726 546,735 552,742M535,785 534,779 539,775 539,770M543,720 533,721 525,728 516,731M513,749 512,742 518,737 516,731M513,749 522,754 528,762 537,766M513,749 509,754 503,756M522,503 520,497 517,493M482,518 488,511 486,502 489,495M489,495 495,491 503,494 509,490M489,495 488,489 484,486 481,483M449,501 447,494 454,488 452,481M476,476 469,473 462,475M452,481 457,477 462,475M875,488 866,498 857,507 843,510M875,488 881,500 878,512 877,524M843,510 844,515 849,519 848,525M877,524 867,524 858,521 848,525M827,540 832,540 837,538 843,539M844,578 845,569 854,565 855,556M855,556 853,549 849,543 843,539M843,510 838,504 829,506 824,501M848,525 846,529 843,534 843,539M758,831 762,830 767,830 772,833M758,831 753,825 750,818 744,812M772,833 772,821 774,810 774,798M744,812 745,804 752,799 756,794M756,794 762,795 767,800 774,798M773,834 773,834 772,833M737,846 742,838 751,836 758,831M728,810 734,809 739,812 744,812M782,793 778,795 774,798M749,779 752,784 756,787 756,794M297,694 299,692 301,690M309,700 309,696 306,693M301,690 304,691 306,693M293,671 299,676 302,682 301,690M293,671 295,664 301,659 300,652M302,651 316,657 330,663 340,676M340,676 340,677 339,678M339,678 331,689 316,684 306,693M340,676 343,674 344,670M335,628 340,634 347,638 348,647M344,670 341,662 350,655 348,647M183,629 184,635 187,640 191,645M223,616 224,629 220,641 213,652M213,652 206,650 199,646 191,645M151,643 154,656 165,661 174,668M191,645 188,655 184,664 174,668M253,650 247,653 241,658 233,657M229,659 224,659 220,662M253,650 255,653 255,656M220,662 220,665 219,668M219,668 219,669 220,669M254,647 254,649 253,650M213,652 215,658 220,662M293,671 288,672 283,674M706,739 707,737 708,736M706,739 699,744 690,743 681,745M708,736 708,726 702,718 697,709M681,745 678,736 675,726 669,719M697,709 690,708 683,710 676,712M669,719 674,717 676,712M716,760 713,753 710,746 706,739M734,724 724,724 715,728 708,736M675,758 678,754 677,748 681,745M709,696 707,702 702,705 697,709M652,719 657,718 663,722 669,719M671,680 668,691 671,702 676,712M479,579 483,588 496,587 499,596M479,579 473,582 469,588 462,589M462,589 461,596 459,602 456,607M499,596 502,603 501,609 499,616M499,616 484,618 470,612 457,608M517,574 511,581 503,587 499,596M483,561 480,567 478,572 479,579M448,568 450,577 461,580 462,589M423,593 434,599 445,602 456,607M538,605 534,611 527,615 520,618M520,618 513,619 506,616 499,616M439,638 443,634 448,633M439,638 431,640 424,637 418,633M413,602 417,612 411,623 418,633M448,633 449,624 449,615 457,608M516,731 510,729 508,722 504,719M544,697 535,688 523,691 513,688M513,688 504,697 513,710 504,719M558,633 564,632 567,637 572,639M558,633 550,637 540,639 533,646M551,671 546,663 534,664 531,655M551,671 555,660 566,656 575,651M575,651 573,645 572,639M531,655 532,650 533,646M589,617 587,628 576,630 572,639M549,609 550,618 558,624 558,633M520,618 526,627 531,635 533,646M552,687 551,682 551,676 551,671M523,658 517,665 509,672 509,682M523,658 527,657 531,655M513,688 511,685 509,682M594,664 588,659 583,654 575,651M499,616 495,624 494,633 492,641M523,658 513,652 504,643 492,641M898,526 900,527 901,528M881,529 880,530 880,532M877,524 878,525 879,526M855,556 860,555 865,551 871,553M875,487 880,486 884,487M875,487 875,486 874,485M821,493 827,488 829,482 834,476M417,730 413,728 408,729M417,730 420,737 426,740M387,741 394,736 400,731 408,729M400,658 401,650 404,644 409,638M400,658 394,656 389,663 383,661M383,661 381,653 376,647 372,641M409,638 401,629 390,627 380,624M372,641 375,636 378,630 378,624M380,624 379,624 378,624M417,679 425,676 430,668 437,663M417,679 408,675 409,663 400,658M439,638 439,646 435,655 437,663M418,633 413,635 409,638M344,670 356,671 366,663 378,668M348,647 357,648 363,639 372,641M378,668 381,665 383,661M398,599 392,607 382,613 380,624M359,609 366,613 373,617 378,624M188,681 193,682 198,684M198,684 198,688 199,692M174,668 174,670 174,672M219,668 210,671 208,683 198,684M492,641 489,643 486,646M509,682 505,681 500,681 496,679M496,679 497,667 484,659 486,646M448,633 459,634 467,640 473,648M473,648 480,649 486,646M437,663 443,671 451,676 461,678M473,648 467,657 464,668 461,678M474,721 469,718 463,716 457,718M474,721 475,719 478,717M478,717 479,707 476,698 477,688M457,718 454,710 446,707 442,700M442,700 451,695 455,686 462,679M462,679 468,680 473,683 477,688M473,750 469,740 470,731 474,721M429,742 438,733 451,730 457,718M504,719 495,718 487,716 478,717M496,679 488,678 484,686 477,688M428,699 435,701 442,700M428,699 428,711 415,718 417,730M428,699 426,693 419,691 417,684M417,679 416,682 417,684M356,696 361,704 354,714 358,722M356,696 365,693 374,695 382,692M382,692 386,694 389,698M367,726 374,719 381,710 389,703M367,726 362,726 358,722M389,698 389,701 389,703M339,678 340,681 341,683M378,668 376,677 379,684 382,692M341,683 346,687 349,694 356,696M417,684 410,694 397,692 389,698M369,730 367,728 367,726M408,729 404,719 399,709 389,703M341,683 340,694 333,703 330,714M358,722 354,724 350,724" fill="none" stroke="#3c3c28" stroke-opacity="0.42" stroke-width="1" stroke-linejoin="round"/>
</g>
<g fill="none" stroke="#1a1a1a" stroke-width="3.4" stroke-linejoin="round" stroke-linecap="round">
<path d="M927.7,841.1 942.5,835.2 948.4,834.2 956.3,837.2 964.2,834.2 976.0,835.2 978.0,847.0 987.9,852.9 993.8,847.0 999.7,845.1 1005.6,841.1"/>
<path d="M109.6,454.2 117.0,453.6 121.9,450.5 129.3,447.4 135.5,449.9 141.6,448.1 146.5,445.0 152.7,447.4 153.9,453.0 148.4,457.3 149.0,462.8 153.9,469.0 161.3,467.8 168.7,467.2 170.6,476.4 177.4,475.8 182.3,473.3 188.4,480.1 197.1,487.5 204.5,483.8 208.2,476.4 213.1,470.9 219.2,472.7 222.3,480.1 227.9,477.0 232.8,481.3 237.7,481.9 240.2,493.7 237.7,496.1 243.9,498.0 252.5,498.6 259.9,501.0 264.8,497.4 269.8,488.7 272.2,481.3 277.2,483.8 280.0,486.3 277.0,486.3 280.7,498.6 282.8,502.5 281.9,491.2 286.2,483.8 294.2,488.7 294.8,494.9 304.1,493.9 306.5,498.6 307.2,513.6 313.6,517.9 324.6,522.8 336.4,526.5 337.0,532.7 341.9,538.9 340.7,545.0 349.3,545.0 351.8,548.7 348.1,556.1 343.1,562.3"/>
<path d="M107.7,525.7 115.7,520.8 123.1,517.1 134.2,513.4 135.5,508.4 141.6,506.0 149.0,504.7 152.7,498.6 158.9,493.7 166.3,491.8 170.6,494.9 166.3,499.8 161.9,506.0 163.8,518.3 165.0,522.0 173.7,524.5 179.8,528.2 188.4,526.9 192.1,523.2 195.8,525.7 193.4,535.6 188.4,545.4 187.2,554.0 189.7,560.0 190.1,565.6 198.0,581.4 215.8,580.4 216.7,569.6 231.5,552.8 238.4,557.7 239.4,569.6 249.3,570.5 257.2,567.6 269.0,564.6 276.9,563.6 282.8,567.6 300.5,574.5 306.2,570.3 312.3,572.1 317.9,576.5 322.2,570.9 327.1,564.7 331.4,560.4 343.1,562.3"/>
<path d="M343.1,562.3 344.4,564.7 351.8,567.2 355.5,570.9 357.3,580.1 361.6,583.6 366.5,581.7"/>
<path d="M366.5,581.7 368.4,570.3 376.4,573.4 378.9,564.7 382.6,556.1 391.2,554.9 390.6,541.3 392.4,535.2 393.7,526.5 380.1,524.7"/>
<path d="M380.1,524.7 382.6,517.9 386.9,509.3 386.3,502.5 380.7,500.7 385.0,498.2 388.1,492.0 388.7,480.3 391.8,478.5"/>
<path d="M380.1,524.7 393.7,524.1 398.6,522.8 402.3,525.9 408.4,524.1 417.1,528.4 423.2,524.1 430.6,520.4 434.3,514.8 438.0,519.1 443.6,520.4 450.3,514.2 457.7,508.7 470.1,503.7 477.4,495.7 478.7,485.3 477.4,478.5"/>
<path d="M508.2,488.7 511.1,492.7 510.1,508.4 502.2,510.4 495.3,532.1 499.3,538.0 494.4,553.8 493.4,567.6 480.6,578.4 480.6,589.3 484.5,597.2"/>
<path d="M366.5,581.7 371.5,580.1 373.9,583.2 383.8,584.5 391.2,583.2 392.4,586.9 396.1,595.6 401.0,590.6 410.9,591.2 423.2,589.4 426.9,590.0 428.2,594.3 435.6,593.7 441.7,594.9 447.9,596.8 455.3,595.6 460.2,598.0 465.1,594.3 470.1,593.7 472.5,598.0 481.1,596.8 484.5,597.2"/>
<path d="M484.5,597.2 496.3,605.1 500.3,609.0 512.1,610.0 525.9,620.8 531.8,616.9 545.6,622.8 553.5,635.6"/>
<path d="M553.5,635.6 569.3,634.6 579.1,618.9"/>
<path d="M579.1,618.9 583.1,612.0 577.2,605.1 575.2,596.2 565.3,592.2 577.2,577.4 583.1,574.5 597.9,569.6 598.9,557.7 608.7,553.8 622.5,536.0 628.4,526.2 641.2,521.3"/>
<path d="M641.2,521.3 634.3,510.4 622.5,504.5 605.8,496.6 610.7,482.8 612.7,480.8"/>
<path d="M641.2,521.3 654.1,520.3 663.9,522.2 669.8,528.2 677.7,532.1 687.6,540.0 689.6,551.8 697.4,563.6 700.0,571.5 705.9,573.5 715.8,570.5 723.7,573.5 725.6,581.4 727.6,571.5 729.6,564.6 737.5,569.6 743.4,577.4 759.1,586.3 771.0,589.3 786.8,589.3 798.6,590.3"/>
<path d="M798.6,590.3 800.6,585.3 826.2,583.4 838.0,581.4 832.1,573.5 836.0,563.6 838.0,555.8 845.9,556.7 853.8,551.8 853.8,534.1 847.9,533.1 846.9,538.0 842.0,542.0 836.0,535.1 831.1,523.2 820.3,523.2 813.4,521.3 809.4,512.4 818.3,509.4 816.3,496.6 821.3,494.6 822.2,489.7 836.0,486.8 840.0,485.8"/>
<path d="M798.6,590.3 814.4,595.2 834.1,601.1 844.9,605.1 848.9,616.9 849.8,626.7"/>
<path d="M849.8,626.7 857.7,616.9 869.6,603.1 880.4,601.1"/>
<path d="M849.8,626.7 836.0,630.7 828.2,642.5 826.2,650.4 829.1,658.3 822.2,664.2 817.3,678.0"/>
<path d="M817.3,678.0 812.4,685.9 802.5,689.8 788.7,691.8 782.8,699.7 774.9,703.6 769.0,701.7 765.1,706.6"/>
<path d="M765.1,706.6 755.2,697.7 757.2,689.8 743.4,681.9 751.3,668.1 754.2,660.3 749.3,656.3 754.2,649.4 747.3,646.5 750.3,636.6 753.2,622.8 747.3,622.8 744.4,636.6 741.4,648.4 735.5,654.3 729.6,667.2 721.7,674.1 713.8,674.1 703.9,668.1 707.9,660.3 700.0,657.3 687.6,654.3 675.7,650.4 667.9,653.4 656.0,650.4 656.0,640.5 650.1,632.7 638.3,627.7 628.4,628.7 624.5,632.7 615.6,633.6 608.7,626.7 602.8,632.7 592.9,634.6 589.0,626.7 579.1,618.9"/>
<path d="M101.4,559.1 106.3,557.2 115.2,558.2 120.6,563.1 118.2,555.2 119.1,548.3 129.0,547.3 130.0,541.4 124.1,538.0 129.0,531.5 133.0,534.5 138.9,528.6 145.8,527.6 148.7,534.5 146.8,539.4 144.8,546.3 147.7,550.3 144.8,555.2 135.9,558.2 136.4,568.0 139.9,575.9 145.8,580.8 148.7,575.9 154.6,573.9 161.5,574.9 163.5,581.8 167.5,591.7 172.4,597.6 164.5,604.5 158.6,613.4 163.5,615.3 168.4,620.3 175.3,616.3 178.3,609.4 187.2,605.5 189.1,614.4 198.0,618.3 199.0,626.2 207.9,627.2 212.8,624.2 217.7,628.2 231.5,622.8 243.4,634.6 263.1,622.8 263.1,614.9 271.0,610.0 278.9,619.8 288.7,620.8 296.6,630.7 300.0,626.4 304.9,622.7 312.3,625.7 313.6,622.0 322.2,620.8 324.6,623.9 330.8,624.5 341.9,623.9"/>
<path d="M366.5,581.7 369.0,589.4 368.4,598.0 364.1,601.7 366.5,606.6 360.4,610.3 357.9,616.5 350.5,621.4 341.9,623.9"/>
<path d="M341.9,623.9 345.6,631.3 341.3,639.9 339.4,643.6"/>
<path d="M339.4,643.6 328.3,652.2 316.0,660.0 295.6,676.0 292.7,691.8"/>
<path d="M339.4,643.6 349.3,644.8 351.8,651.0 357.9,657.2 365.6,670.1 369.6,678.0 380.0,687.3 391.8,686.3 403.7,680.4 423.4,676.5 443.1,682.4 453.0,681.4 458.9,691.3 464.8,697.2 466.8,709.0 478.6,714.9 484.5,718.9 479.6,719.9 488.4,725.8 494.4,730.7 506.2,731.7 516.0,720.8 523.9,714.9 535.8,712.0 542.7,711.0 545.6,718.9"/>
<path d="M545.6,718.9 531.8,720.8 532.8,745.5 523.9,748.4 518.0,753.4 514.1,747.5 504.2,747.5 503.2,756.3 496.3,766.2 492.4,778.0 494.4,786.9"/>
<path d="M553.5,635.6 558.4,640.0 559.4,647.9 553.5,657.7 540.7,668.6 543.6,672.5 553.5,672.5 556.5,679.4 551.5,689.3 549.6,699.1 553.5,709.0 552.5,715.9 545.6,718.9"/>
<path d="M549.6,717.9 557.4,722.8 565.3,728.7 557.4,738.6 556.5,746.5 550.5,752.4 553.5,756.3 563.4,752.4 583.1,754.4 587.0,744.5 598.9,737.6 606.7,743.5 618.6,736.6 626.5,741.5 640.3,738.6 644.2,749.4 642.2,755.3"/>
<path d="M765.1,706.6 759.1,715.5 771.1,703.0 766.2,707.9 757.3,716.8 746.5,723.7 741.5,730.6 734.6,737.5 725.8,738.0 722.8,743.4 726.8,746.3 716.9,755.2 709.0,764.1 704.1,771.5"/>
<path d="M746.5,728.6 753.4,728.6 758.3,736.5 776.0,747.3 780.0,745.3 783.9,751.3 790.8,753.2 792.8,759.1 792.7,756.3 798.6,758.3 802.5,768.2 810.4,778.0 812.4,781.0 822.2,775.1 830.1,778.0 836.0,785.9 836.0,791.8 842.0,797.7 841.0,805.6 836.0,818.4 845.9,818.4 855.8,811.5 861.7,827.3 867.6,835.2 863.6,845.1 869.6,852.9 869.6,860.8 861.7,862.8 853.8,858.9 857.7,853.9 867.6,854.9 873.5,850.0 881.4,855.9 889.3,852.9 895.2,846.0 912.9,845.1 916.9,849.0"/>
<path d="M723.8,823.2 726.8,825.2 734.6,825.2 734.6,820.3 742.5,817.3 744.5,812.4 751.4,812.4 754.4,823.2 757.3,825.2 770.1,816.3 769.1,822.2 773.1,838.0 787.9,845.9 800.0,853.8 788.7,845.1 800.6,853.9 807.5,847.0 818.3,851.0 826.2,854.9 836.0,851.0 836.0,856.9 828.2,860.8 827.2,870.7 830.1,876.6 830.1,884.5 824.2,886.5 830.1,884.5 842.0,884.5 849.8,892.4 857.7,902.2 867.6,903.2 871.5,898.3 881.4,886.5 893.2,880.5 903.1,874.6 913.9,869.7"/>
<path d="M817.3,678.0 828.2,682.9 836.0,686.9 836.0,687.3 835.1,695.2 829.1,694.2 830.1,699.1 818.3,708.0 821.3,715.9 834.1,721.8 836.0,729.7 851.8,738.6 861.7,737.6 863.6,747.5 866.6,751.4 873.5,746.5 883.4,744.5 899.1,760.3 895.2,766.2 897.2,774.1 903.1,776.0 905.1,793.8 904.1,803.6 911.0,805.6 918.9,797.7 926.7,798.7 933.6,803.6 932.7,811.5 938.6,819.4 935.6,825.3 926.7,820.4 923.8,825.3 928.7,830.3 927.7,841.1"/>
<path d="M65.9,578.9 74.8,578.4 75.8,568.0 81.2,578.9 82.7,581.3 85.6,578.4 92.5,578.4 90.1,572.5 94.5,571.0 97.0,575.9 95.5,569.0 101.4,559.1 94.5,555.2 88.1,549.3 89.6,545.8 97.5,542.4 98.4,535.5 108.3,528.6 106.3,521.7 105.3,515.8 102.2,509.7 92.3,506.0 87.4,499.2 88.6,493.7 90.5,486.9 98.5,482.6 100.9,476.4 103.4,469.0 104.6,462.8 110.2,457.9 109.6,454.2 110.8,443.1 120.7,432.0 128.1,427.7 142.8,424.0 149.0,427.7 153.9,433.3 158.3,428.3 155.2,416.0 158.9,413.6 163.8,419.7 168.7,425.3 174.9,420.9 175.5,413.6 179.8,412.9 183.5,417.3 182.3,428.3 187.2,432.0 194.6,433.3 202.0,440.0 208.2,435.7 212.5,430.8 211.2,421.6 215.6,420.9 220.5,428.3 229.1,433.9 231.6,441.9 234.0,435.7 233.4,429.0 239.0,426.5 245.1,431.4 250.1,430.8 251.3,424.0 245.1,418.5 250.1,413.6 255.0,411.1 259.3,413.6 257.4,421.6 261.1,423.4 266.1,416.0 272.2,412.9 280.0,414.2 280.8,421.7 285.8,426.6 285.8,434.5 294.6,444.4 300.5,446.3 304.5,453.2 322.2,446.3 330.1,451.3 343.9,454.2 349.8,462.1 357.9,462.5 361.6,468.6 369.0,472.3 375.2,474.8 383.8,468.6 390.0,471.7 391.8,478.5 398.6,483.4 406.0,486.5 410.9,490.2 423.2,493.3 430.6,492.7 442.9,489.0 447.9,482.2 452.8,474.8 459.0,469.2 461.4,473.6 465.1,472.3 467.6,466.8 472.5,465.5 476.2,469.9 477.4,478.5 481.1,482.2 492.2,484.0 498.3,484.8 508.2,488.7 514.1,492.7 523.9,489.7 531.8,486.8 539.7,479.9 557.4,479.9 563.4,475.9 575.2,478.9 583.1,484.8 596.9,482.8 608.7,480.8 619.6,476.9 628.4,475.9 644.2,478.9 656.0,479.9 657.0,485.8 669.8,484.8 683.6,484.8 693.5,490.7 700.0,498.6 707.9,501.5 721.7,492.7 737.5,487.7 738.4,478.9 751.3,475.9 756.2,470.0 776.9,471.0 796.6,467.0 810.4,470.0 828.2,472.0 836.0,475.9 840.0,485.8 851.8,483.8 857.7,488.7 869.6,486.8 877.4,482.8 884.3,484.8 886.3,490.7 883.4,498.6 884.3,510.4 889.3,515.3 898.2,516.3 900.7,526.2 907.0,534.1 913.3,539.0 908.0,542.4 895.2,538.4 902.1,535.7 894.2,523.2 887.3,520.3 879.4,526.2 883.4,530.1 878.4,535.1 873.5,542.0 872.5,549.8 871.5,567.6 873.5,585.3 879.4,599.1 882.4,605.1 883.4,616.9 882.4,636.6 884.3,656.3 889.3,676.0 895.2,695.7 899.1,720.0 907.0,738.6 916.9,756.3 932.7,774.1 944.5,789.8 958.3,801.7 972.1,817.4 985.9,833.2 999.7,843.1 1006.6,841.1 1005.6,849.0 999.7,852.9 1001.7,860.8 999.7,870.7 999.7,880.5 985.9,886.5 983.9,892.4 972.1,896.3 966.2,886.5 964.2,874.6 958.3,872.7 948.4,877.6 937.6,872.7 937.6,862.8 942.5,854.9 940.5,845.1 942.5,835.2 928.7,841.1 916.9,849.0 916.9,866.7 924.8,864.8 929.7,870.7 924.8,876.6 918.9,876.6 913.9,872.7 911.0,880.5 912.0,892.4 905.1,898.3 897.2,902.2 885.3,908.1 884.3,915.0 877.4,916.0 861.7,920.0 858.7,928.8 851.8,920.0 838.0,921.9 830.1,925.9 818.3,919.0 804.5,918.0 794.6,910.1 785.8,905.2 784.8,901.2 771.0,897.3 767.0,900.3 759.1,896.3 749.3,888.4 737.5,883.5 735.5,878.6 730.6,872.7 731.5,860.8 724.6,853.9 723.7,845.1 713.8,835.2 715.9,831.1 717.9,823.2 723.8,822.2 724.8,818.3 727.7,807.5 738.6,796.6 742.5,785.3 721.8,784.8 721.8,787.7 714.4,792.7 710.0,788.7 703.1,787.2 697.7,786.8 701.1,785.8 702.1,779.9 704.1,777.9 704.1,771.5 695.2,769.5 690.3,769.0 686.3,773.4 677.5,771.0 669.6,763.1 662.2,758.2 661.7,751.3 657.7,745.8 651.8,744.4 644.9,753.2 642.2,755.3 628.4,760.3 616.6,772.1 594.9,776.0 602.8,782.9 612.7,785.9 612.7,791.8 606.7,793.8 589.0,789.8 573.2,791.8 567.3,796.7 557.4,797.7 553.5,793.8 543.6,788.9 545.6,780.0 537.7,782.0 531.8,795.8 520.0,807.6 517.0,805.6 516.0,795.8 504.2,793.8 494.4,786.9 484.5,782.0 478.6,774.1 456.9,775.1 449.0,772.1 443.1,776.0 443.1,785.9 436.2,787.9 429.3,779.0 416.5,772.1 414.5,765.2 406.6,756.3 401.7,745.5 391.8,747.5 380.0,734.6 334.1,720.0 326.2,711.5 316.3,699.7 306.5,701.7 292.7,691.8 278.9,681.9 282.8,676.0 278.9,666.2 269.0,658.3 249.3,656.3 230.5,658.3 215.8,676.0 211.8,687.9 192.1,695.7 186.2,680.0 170.4,671.1 158.6,669.1 144.8,673.1 138.9,678.0 129.0,674.1 137.9,654.3 145.8,652.4 145.8,636.6 144.8,652.8 146.8,637.0 143.8,634.1 142.8,626.2 137.9,622.2 132.0,624.2 126.1,617.3 124.1,612.4 120.1,609.4 113.2,617.8 103.4,617.3 95.5,612.4 91.5,606.5 88.6,611.4 76.8,610.4 79.7,607.5 77.7,603.5 65.9,604.5Z" stroke-width="2.8"/>
<path d="M853.8,904.2 861.7,902.2 869.6,904.2 869.6,909.1 860.7,914.1 855.8,909.1Z" fill="#fff" stroke-width="2.8"/>
<path d="M74.8,578.4 75.8,568.0 81.2,578.9Z" fill="#1a1a1a" stroke-width="1.5"/>
<path d="M90.1,572.5 94.5,571.0 97.0,575.9 92.5,578.4Z" fill="#1a1a1a" stroke-width="1.5"/>
<circle cx="273.3" cy="481.6" r="2.2" fill="#1a1a1a" stroke="none"/>
<circle cx="282.3" cy="501.8" r="2.8" fill="#1a1a1a" stroke="none"/>
<circle cx="294.2" cy="494.6" r="2.5" fill="#1a1a1a" stroke="none"/>
<circle cx="382.9" cy="500.1" r="2.8" fill="#1a1a1a" stroke="none"/>
<circle cx="227.9" cy="480.1" r="3.0" fill="#1a1a1a" stroke="none"/>
<circle cx="461.4" cy="472.9" r="2.5" fill="#1a1a1a" stroke="none"/>
<circle cx="168.4" cy="591.7" r="2.5" fill="#1a1a1a" stroke="none"/>
<circle cx="119.1" cy="560.1" r="2.5" fill="#1a1a1a" stroke="none"/>
<circle cx="131.0" cy="532.5" r="2.0" fill="#1a1a1a" stroke="none"/>
<circle cx="141.8" cy="577.9" r="2.0" fill="#1a1a1a" stroke="none"/>
<circle cx="905.0" cy="534.0" r="2.5" fill="#1a1a1a" stroke="none"/>
<circle cx="725.6" cy="577.4" r="2.0" fill="#1a1a1a" stroke="none"/>
<circle cx="551.5" cy="713.9" r="2.5" fill="#1a1a1a" stroke="none"/>
<circle cx="481.5" cy="719.3" r="2.0" fill="#1a1a1a" stroke="none"/>
<circle cx="745.3" cy="812.5" r="2.5" fill="#1a1a1a" stroke="none"/>
<circle cx="826.2" cy="885.5" r="2.5" fill="#1a1a1a" stroke="none"/>
<circle cx="863.6" cy="747.5" r="2.5" fill="#1a1a1a" stroke="none"/>
<circle cx="899.1" cy="776.0" r="2.0" fill="#1a1a1a" stroke="none"/>
<circle cx="926.7" cy="820.4" r="2.0" fill="#1a1a1a" stroke="none"/>
<circle cx="1001.7" cy="843.1" r="2.5" fill="#1a1a1a" stroke="none"/>
<circle cx="913.9" cy="868.7" r="2.5" fill="#1a1a1a" stroke="none"/>
<circle cx="829.1" cy="693.2" r="2.5" fill="#1a1a1a" stroke="none"/>
<circle cx="782.8" cy="747.5" r="2.0" fill="#1a1a1a" stroke="none"/>
</g>
<g font-family="'DejaVu Sans',sans-serif" font-size="24.5" text-anchor="middle" fill="#000" stroke="#fff" stroke-width="4.2" paint-order="stroke" stroke-linejoin="round">
<text x="269.4" y="471.1">H2</text>
<text x="259.0" y="538.0">H1</text>
<text x="230.0" y="610.0">G2</text>
<text x="192.5" y="658.0">G1</text>
<text x="420.0" y="515.0">F3</text>
<text x="449.2" y="560.0">F2</text>
<text x="554.5" y="555.0">F1</text>
<text x="459.0" y="654.0">E2</text>
<text x="420.0" y="725.0">E1</text>
<text x="699.0" y="616.0">D1</text>
<text x="768.0" y="543.0">D3</text>
<text x="872.0" y="556.0">D2</text>
<text x="661.0" y="709.0">C2</text>
<text x="564.0" y="786.0">C1</text>
<text x="871.0" y="713.0">B2</text>
<text x="871.0" y="791.0">B1</text>
<text x="814.0" y="824.0">A2</text>
<text x="794.0" y="891.0">A1</text>
</g>
</svg>
<div id="zones"><b>ZONE DI ALLERTA:</b><br><br>A1: Montagna romagnola (FC, RN)<br>A2: Alta collina romagnola (RA, FC, RN)<br>B1: Bassa collina e pianura romagnola (RA, FC, RN)<br>B2: Costa romagnola (RA, FC, RN)<br>C1: Montagna bolognese (BO)<br>C2: Collina bolognese (BO, RA)<br>D1: Pianura bolognese (BO, FE, RA)<br>D2: Costa ferrarese (FE)<br>D3: Pianura ferrarese (FE)<br>E1: Montagna emiliana centrale (PR, RE, MO)<br>E2: Collina emiliana centrale (PR, RE, MO)<br>F1: Pianura modenese (RE, MO)<br>F2: Pianura reggiana (RE)<br>F3: Pianura reggiana di Po (PR, RE)<br>G1: Montagna piacentino-parmense (PC, PR)<br>G2: Alta collina piacentino-parmense (PC, PR)<br>H1: Bassa collina piacentino-parmense (PC, PR)<br>H2: Pianura piacentino-parmense (PC, PR)</div>
<div class="abs" style="left:180.6px;top:1000.1px;width:1397.2px;height:111.1px;background:#999999;"></div>
<div class="c th" style="left:180.6px;top:1000.1px;width:172.2px;height:111.1px;"><span>CRITICITA'<br>IDRAULICA</span></div>
<div class="c th" style="left:352.8px;top:1000.1px;width:180.6px;height:111.1px;"><span>CRITICITA'<br>IDROGEOLOGICA<br>&nbsp;</span></div>
<div class="c th" style="left:533.3px;top:1000.1px;width:172.2px;height:111.1px;"><span>CRITICITA' PER<br>TEMPORALI</span></div>
<div class="c th" style="left:705.6px;top:1000.1px;width:144.4px;height:111.1px;"><span>VENTO</span></div>
<div class="c th" style="left:850.0px;top:1000.1px;width:158.3px;height:111.1px;"><span>TEMPERATURE<br>ESTREME</span></div>
<div class="c th" style="left:1008.3px;top:1000.1px;width:136.1px;height:111.1px;"><span>NEVE</span></div>
<div class="c th" style="left:1144.4px;top:1000.1px;width:144.5px;height:111.1px;"><span>PIOGGIA CHE<br>GELA</span></div>
<div class="c th" style="left:1288.9px;top:1000.1px;width:144.4px;height:111.1px;"><span>STATO DEL<br>MARE</span></div>
<div class="c th" style="left:1433.3px;top:1000.1px;width:144.5px;height:111.1px;"><span>CRITICITA'<br>COSTIERA</span></div>
<div class="abs" style="left:60.9px;top:1111.2px;width:119.7px;height:1000.0px;background:#999999;"></div>
<div class="c zn" style="left:60.9px;top:1112.2px;width:119.7px;height:55.6px;">A1</div>
<div class="abs" style="left:180.6px;top:1111.20px;width:352.8px;height:55.56px;background:#ff9900;"></div>
<div class="abs" style="left:533.3px;top:1111.20px;width:755.6px;height:55.56px;background:#99cc00;"></div>
<div class="abs" style="left:1288.9px;top:1111.20px;width:288.9px;height:55.56px;background:#cccccc;"></div>
<div class="c v" style="left:180.6px;top:1111.50px;width:172.2px;height:55.56px;">ARANCIONE</div>
<div class="c v" style="left:352.8px;top:1111.50px;width:180.6px;height:55.56px;">ARANCIONE</div>
<div class="c v" style="left:533.3px;top:1111.50px;width:172.2px;height:55.56px;">VERDE</div>
<div class="c v" style="left:705.6px;top:1111.50px;width:144.4px;height:55.56px;">VERDE</div>
<div class="c v" style="left:850.0px;top:1111.50px;width:158.3px;height:55.56px;">VERDE</div>
<div class="c v" style="left:1008.3px;top:1111.50px;width:136.1px;height:55.56px;">VERDE</div>
<div class="c v" style="left:1144.4px;top:1111.50px;width:144.5px;height:55.56px;">VERDE</div>
<div class="c zn" style="left:60.9px;top:1167.8px;width:119.7px;height:55.6px;">A2</div>
<div class="abs" style="left:180.6px;top:1166.76px;width:352.8px;height:55.56px;background:#ff9900;"></div>
<div class="abs" style="left:533.3px;top:1166.76px;width:755.6px;height:55.56px;background:#99cc00;"></div>
<div class="abs" style="left:1288.9px;top:1166.76px;width:288.9px;height:55.56px;background:#cccccc;"></div>
<div class="c v" style="left:180.6px;top:1167.06px;width:172.2px;height:55.56px;">ARANCIONE</div>
<div class="c v" style="left:352.8px;top:1167.06px;width:180.6px;height:55.56px;">ARANCIONE</div>
<div class="c v" style="left:533.3px;top:1167.06px;width:172.2px;height:55.56px;">VERDE</div>
<div class="c v" style="left:705.6px;top:1167.06px;width:144.4px;height:55.56px;">VERDE</div>
<div class="c v" style="left:850.0px;top:1167.06px;width:158.3px;height:55.56px;">VERDE</div>
<div class="c v" style="left:1008.3px;top:1167.06px;width:136.1px;height:55.56px;">VERDE</div>
<div class="c v" style="left:1144.4px;top:1167.06px;width:144.5px;height:55.56px;">VERDE</div>
<div class="c zn" style="left:60.9px;top:1223.3px;width:119.7px;height:55.6px;">B1</div>
<div class="abs" style="left:180.6px;top:1222.31px;width:352.8px;height:55.56px;background:#ff9900;"></div>
<div class="abs" style="left:533.3px;top:1222.31px;width:755.6px;height:55.56px;background:#99cc00;"></div>
<div class="abs" style="left:1288.9px;top:1222.31px;width:288.9px;height:55.56px;background:#cccccc;"></div>
<div class="c v" style="left:180.6px;top:1222.61px;width:172.2px;height:55.56px;">ARANCIONE</div>
<div class="c v" style="left:352.8px;top:1222.61px;width:180.6px;height:55.56px;">ARANCIONE</div>
<div class="c v" style="left:533.3px;top:1222.61px;width:172.2px;height:55.56px;">VERDE</div>
<div class="c v" style="left:705.6px;top:1222.61px;width:144.4px;height:55.56px;">VERDE</div>
<div class="c v" style="left:850.0px;top:1222.61px;width:158.3px;height:55.56px;">VERDE</div>
<div class="c v" style="left:1008.3px;top:1222.61px;width:136.1px;height:55.56px;">VERDE</div>
<div class="c v" style="left:1144.4px;top:1222.61px;width:144.5px;height:55.56px;">VERDE</div>
<div class="c zn" style="left:60.9px;top:1278.9px;width:119.7px;height:55.6px;">B2</div>
<div class="abs" style="left:180.6px;top:1277.87px;width:352.8px;height:55.56px;background:#ff9900;"></div>
<div class="abs" style="left:533.3px;top:1277.87px;width:172.2px;height:55.56px;background:#99cc00;"></div>
<div class="abs" style="left:705.6px;top:1277.87px;width:144.4px;height:55.56px;background:#ffff00;"></div>
<div class="abs" style="left:850.0px;top:1277.87px;width:438.9px;height:55.56px;background:#99cc00;"></div>
<div class="abs" style="left:1288.9px;top:1277.87px;width:144.4px;height:55.56px;background:#ff9900;"></div>
<div class="abs" style="left:1433.3px;top:1277.87px;width:144.5px;height:55.56px;background:#ffff00;"></div>
<div class="c v" style="left:180.6px;top:1278.17px;width:172.2px;height:55.56px;">ARANCIONE</div>
<div class="c v" style="left:352.8px;top:1278.17px;width:180.6px;height:55.56px;">ARANCIONE</div>
<div class="c v" style="left:533.3px;top:1278.17px;width:172.2px;height:55.56px;">VERDE</div>
<div class="c v" style="left:705.6px;top:1278.17px;width:144.4px;height:55.56px;">GIALLO</div>
<div class="c v" style="left:850.0px;top:1278.17px;width:158.3px;height:55.56px;">VERDE</div>
<div class="c v" style="left:1008.3px;top:1278.17px;width:136.1px;height:55.56px;">VERDE</div>
<div class="c v" style="left:1144.4px;top:1278.17px;width:144.5px;height:55.56px;">VERDE</div>
<div class="c v" style="left:1288.9px;top:1278.17px;width:144.4px;height:55.56px;">ARANCIONE</div>
<div class="c v" style="left:1433.3px;top:1278.17px;width:144.5px;height:55.56px;">GIALLO</div>
<div class="c zn" style="left:60.9px;top:1334.4px;width:119.7px;height:55.6px;">C1</div>
<div class="abs" style="left:180.6px;top:1333.42px;width:352.8px;height:55.56px;background:#ff9900;"></div>
<div class="abs" style="left:533.3px;top:1333.42px;width:475.0px;height:55.56px;background:#99cc00;"></div>
<div class="abs" style="left:1008.3px;top:1333.42px;width:136.1px;height:55.56px;background:#ffff00;"></div>
<div class="abs" style="left:1144.4px;top:1333.42px;width:144.5px;height:55.56px;background:#99cc00;"></div>
<div class="abs" style="left:1288.9px;top:1333.42px;width:288.9px;height:55.56px;background:#cccccc;"></div>
<div class="c v" style="left:180.6px;top:1333.72px;width:172.2px;height:55.56px;">ARANCIONE</div>
<div class="c v" style="left:352.8px;top:1333.72px;width:180.6px;height:55.56px;">ARANCIONE</div>
<div class="c v" style="left:533.3px;top:1333.72px;width:172.2px;height:55.56px;">VERDE</div>
<div class="c v" style="left:705.6px;top:1333.72px;width:144.4px;height:55.56px;">VERDE</div>
<div class="c v" style="left:850.0px;top:1333.72px;width:158.3px;height:55.56px;">VERDE</div>
<div class="c v" style="left:1008.3px;top:1333.72px;width:136.1px;height:55.56px;">GIALLO</div>
<div class="c v" style="left:1144.4px;top:1333.72px;width:144.5px;height:55.56px;">VERDE</div>
<div class="c zn" style="left:60.9px;top:1390.0px;width:119.7px;height:55.6px;">C2</div>
<div class="abs" style="left:180.6px;top:1388.98px;width:352.8px;height:55.56px;background:#ff9900;"></div>
<div class="abs" style="left:533.3px;top:1388.98px;width:755.6px;height:55.56px;background:#99cc00;"></div>
<div class="abs" style="left:1288.9px;top:1388.98px;width:288.9px;height:55.56px;background:#cccccc;"></div>
<div class="c v" style="left:180.6px;top:1389.28px;width:172.2px;height:55.56px;">ARANCIONE</div>
<div class="c v" style="left:352.8px;top:1389.28px;width:180.6px;height:55.56px;">ARANCIONE</div>
<div class="c v" style="left:533.3px;top:1389.28px;width:172.2px;height:55.56px;">VERDE</div>
<div class="c v" style="left:705.6px;top:1389.28px;width:144.4px;height:55.56px;">VERDE</div>
<div class="c v" style="left:850.0px;top:1389.28px;width:158.3px;height:55.56px;">VERDE</div>
<div class="c v" style="left:1008.3px;top:1389.28px;width:136.1px;height:55.56px;">VERDE</div>
<div class="c v" style="left:1144.4px;top:1389.28px;width:144.5px;height:55.56px;">VERDE</div>
<div class="c zn" style="left:60.9px;top:1445.5px;width:119.7px;height:55.6px;">D1</div>
<div class="abs" style="left:180.6px;top:1444.54px;width:172.2px;height:55.56px;background:#ff0000;"></div>
<div class="abs" style="left:352.8px;top:1444.54px;width:936.1px;height:55.56px;background:#99cc00;"></div>
<div class="abs" style="left:1288.9px;top:1444.54px;width:288.9px;height:55.56px;background:#cccccc;"></div>
<div class="c v" style="left:180.6px;top:1444.84px;width:172.2px;height:55.56px;">ROSSO</div>
<div class="c v" style="left:352.8px;top:1444.84px;width:180.6px;height:55.56px;">VERDE</div>
<div class="c v" style="left:533.3px;top:1444.84px;width:172.2px;height:55.56px;">VERDE</div>
<div class="c v" style="left:705.6px;top:1444.84px;width:144.4px;height:55.56px;">VERDE</div>
<div class="c v" style="left:850.0px;top:1444.84px;width:158.3px;height:55.56px;">VERDE</div>
<div class="c v" style="left:1008.3px;top:1444.84px;width:136.1px;height:55.56px;">VERDE</div>
<div class="c v" style="left:1144.4px;top:1444.84px;width:144.5px;height:55.56px;">VERDE</div>
<div class="c zn" style="left:60.9px;top:1501.1px;width:119.7px;height:55.6px;">D2</div>
<div class="abs" style="left:180.6px;top:1500.09px;width:172.2px;height:55.56px;background:#ffff00;"></div>
<div class="abs" style="left:352.8px;top:1500.09px;width:352.8px;height:55.56px;background:#99cc00;"></div>
<div class="abs" style="left:705.6px;top:1500.09px;width:144.4px;height:55.56px;background:#ffff00;"></div>
<div class="abs" style="left:850.0px;top:1500.09px;width:438.9px;height:55.56px;background:#99cc00;"></div>
<div class="abs" style="left:1288.9px;top:1500.09px;width:144.4px;height:55.56px;background:#ff9900;"></div>
<div class="abs" style="left:1433.3px;top:1500.09px;width:144.5px;height:55.56px;background:#ffff00;"></div>
<div class="c v" style="left:180.6px;top:1500.39px;width:172.2px;height:55.56px;">GIALLO</div>
<div class="c v" style="left:352.8px;top:1500.39px;width:180.6px;height:55.56px;">VERDE</div>
<div class="c v" style="left:533.3px;top:1500.39px;width:172.2px;height:55.56px;">VERDE</div>
<div class="c v" style="left:705.6px;top:1500.39px;width:144.4px;height:55.56px;">GIALLO</div>
<div class="c v" style="left:850.0px;top:1500.39px;width:158.3px;height:55.56px;">VERDE</div>
<div class="c v" style="left:1008.3px;top:1500.39px;width:136.1px;height:55.56px;">VERDE</div>
<div class="c v" style="left:1144.4px;top:1500.39px;width:144.5px;height:55.56px;">VERDE</div>
<div class="c v" style="left:1288.9px;top:1500.39px;width:144.4px;height:55.56px;">ARANCIONE</div>
<div class="c v" style="left:1433.3px;top:1500.39px;width:144.5px;height:55.56px;">GIALLO</div>
<div class="c zn" style="left:60.9px;top:1556.6px;width:119.7px;height:55.6px;">D3</div>
<div class="abs" style="left:180.6px;top:1555.65px;width:172.2px;height:55.56px;background:#ffff00;"></div>
<div class="abs" style="left:352.8px;top:1555.65px;width:936.1px;height:55.56px;background:#99cc00;"></div>
<div class="abs" style="left:1288.9px;top:1555.65px;width:288.9px;height:55.56px;background:#cccccc;"></div>
<div class="c v" style="left:180.6px;top:1555.95px;width:172.2px;height:55.56px;">GIALLO</div>
<div class="c v" style="left:352.8px;top:1555.95px;width:180.6px;height:55.56px;">VERDE</div>
<div class="c v" style="left:533.3px;top:1555.95px;width:172.2px;height:55.56px;">VERDE</div>
<div class="c v" style="left:705.6px;top:1555.95px;width:144.4px;height:55.56px;">VERDE</div>
<div class="c v" style="left:850.0px;top:1555.95px;width:158.3px;height:55.56px;">VERDE</div>
<div class="c v" style="left:1008.3px;top:1555.95px;width:136.1px;height:55.56px;">VERDE</div>
<div class="c v" style="left:1144.4px;top:1555.95px;width:144.5px;height:55.56px;">VERDE</div>
<div class="c zn" style="left:60.9px;top:1612.2px;width:119.7px;height:55.6px;">E1</div>
<div class="abs" style="left:180.6px;top:1611.20px;width:172.2px;height:55.56px;background:#99cc00;"></div>
<div class="abs" style="left:352.8px;top:1611.20px;width:180.6px;height:55.56px;background:#ffff00;"></div>
<div class="abs" style="left:533.3px;top:1611.20px;width:475.0px;height:55.56px;background:#99cc00;"></div>
<div class="abs" style="left:1008.3px;top:1611.20px;width:136.1px;height:55.56px;background:#ffff00;"></div>
<div class="abs" style="left:1144.4px;top:1611.20px;width:144.5px;height:55.56px;background:#99cc00;"></div>
<div class="abs" style="left:1288.9px;top:1611.20px;width:288.9px;height:55.56px;background:#cccccc;"></div>
<div class="c v" style="left:180.6px;top:1611.50px;width:172.2px;height:55.56px;">VERDE</div>
<div class="c v" style="left:352.8px;top:1611.50px;width:180.6px;height:55.56px;">GIALLO</div>
<div class="c v" style="left:533.3px;top:1611.50px;width:172.2px;height:55.56px;">VERDE</div>
<div class="c v" style="left:705.6px;top:1611.50px;width:144.4px;height:55.56px;">VERDE</div>
<div class="c v" style="left:850.0px;top:1611.50px;width:158.3px;height:55.56px;">VERDE</div>
<div class="c v" style="left:1008.3px;top:1611.50px;width:136.1px;height:55.56px;">GIALLO</div>
<div class="c v" style="left:1144.4px;top:1611.50px;width:144.5px;height:55.56px;">VERDE</div>
<div class="c zn" style="left:60.9px;top:1667.8px;width:119.7px;height:55.6px;">E2</div>
<div class="abs" style="left:180.6px;top:1666.76px;width:172.2px;height:55.56px;background:#ffff00;"></div>
<div class="abs" style="left:352.8px;top:1666.76px;width:180.6px;height:55.56px;background:#ff9900;"></div>
<div class="abs" style="left:533.3px;top:1666.76px;width:475.0px;height:55.56px;background:#99cc00;"></div>
<div class="abs" style="left:1008.3px;top:1666.76px;width:136.1px;height:55.56px;background:#ffff00;"></div>
<div class="abs" style="left:1144.4px;top:1666.76px;width:144.5px;height:55.56px;background:#99cc00;"></div>
<div class="abs" style="left:1288.9px;top:1666.76px;width:288.9px;height:55.56px;background:#cccccc;"></div>
<div class="c v" style="left:180.6px;top:1667.06px;width:172.2px;height:55.56px;">GIALLO</div>
<div class="c v" style="left:352.8px;top:1667.06px;width:180.6px;height:55.56px;">ARANCIONE</div>
<div class="c v" style="left:533.3px;top:1667.06px;width:172.2px;height:55.56px;">VERDE</div>
<div class="c v" style="left:705.6px;top:1667.06px;width:144.4px;height:55.56px;">VERDE</div>
<div class="c v" style="left:850.0px;top:1667.06px;width:158.3px;height:55.56px;">VERDE</div>
<div class="c v" style="left:1008.3px;top:1667.06px;width:136.1px;height:55.56px;">GIALLO</div>
<div class="c v" style="left:1144.4px;top:1667.06px;width:144.5px;height:55.56px;">VERDE</div>
<div class="c zn" style="left:60.9px;top:1723.3px;width:119.7px;height:55.6px;">F1</div>
<div class="abs" style="left:180.6px;top:1722.32px;width:172.2px;height:55.56px;background:#ffff00;"></div>
<div class="abs" style="left:352.8px;top:1722.32px;width:936.1px;height:55.56px;background:#99cc00;"></div>
<div class="abs" style="left:1288.9px;top:1722.32px;width:288.9px;height:55.56px;background:#cccccc;"></div>
<div class="c v" style="left:180.6px;top:1722.62px;width:172.2px;height:55.56px;">GIALLO</div>
<div class="c v" style="left:352.8px;top:1722.62px;width:180.6px;height:55.56px;">VERDE</div>
<div class="c v" style="left:533.3px;top:1722.62px;width:172.2px;height:55.56px;">VERDE</div>
<div class="c v" style="left:705.6px;top:1722.62px;width:144.4px;height:55.56px;">VERDE</div>
<div class="c v" style="left:850.0px;top:1722.62px;width:158.3px;height:55.56px;">VERDE</div>
<div class="c v" style="left:1008.3px;top:1722.62px;width:136.1px;height:55.56px;">VERDE</div>
<div class="c v" style="left:1144.4px;top:1722.62px;width:144.5px;height:55.56px;">VERDE</div>
<div class="c zn" style="left:60.9px;top:1778.9px;width:119.7px;height:55.6px;">F2</div>
<div class="abs" style="left:180.6px;top:1777.87px;width:172.2px;height:55.56px;background:#ffff00;"></div>
<div class="abs" style="left:352.8px;top:1777.87px;width:936.1px;height:55.56px;background:#99cc00;"></div>
<div class="abs" style="left:1288.9px;top:1777.87px;width:288.9px;height:55.56px;background:#cccccc;"></div>
<div class="c v" style="left:180.6px;top:1778.17px;width:172.2px;height:55.56px;">GIALLO</div>
<div class="c v" style="left:352.8px;top:1778.17px;width:180.6px;height:55.56px;">VERDE</div>
<div class="c v" style="left:533.3px;top:1778.17px;width:172.2px;height:55.56px;">VERDE</div>
<div class="c v" style="left:705.6px;top:1778.17px;width:144.4px;height:55.56px;">VERDE</div>
<div class="c v" style="left:850.0px;top:1778.17px;width:158.3px;height:55.56px;">VERDE</div>
<div class="c v" style="left:1008.3px;top:1778.17px;width:136.1px;height:55.56px;">VERDE</div>
<div class="c v" style="left:1144.4px;top:1778.17px;width:144.5px;height:55.56px;">VERDE</div>
<div class="c zn" style="left:60.9px;top:1834.4px;width:119.7px;height:55.6px;">F3</div>
<div class="abs" style="left:180.6px;top:1833.43px;width:172.2px;height:55.56px;background:#ffff00;"></div>
<div class="abs" style="left:352.8px;top:1833.43px;width:936.1px;height:55.56px;background:#99cc00;"></div>
<div class="abs" style="left:1288.9px;top:1833.43px;width:288.9px;height:55.56px;background:#cccccc;"></div>
<div class="c v" style="left:180.6px;top:1833.73px;width:172.2px;height:55.56px;">GIALLO</div>
<div class="c v" style="left:352.8px;top:1833.73px;width:180.6px;height:55.56px;">VERDE</div>
<div class="c v" style="left:533.3px;top:1833.73px;width:172.2px;height:55.56px;">VERDE</div>
<div class="c v" style="left:705.6px;top:1833.73px;width:144.4px;height:55.56px;">VERDE</div>
<div class="c v" style="left:850.0px;top:1833.73px;width:158.3px;height:55.56px;">VERDE</div>
<div class="c v" style="left:1008.3px;top:1833.73px;width:136.1px;height:55.56px;">VERDE</div>
<div class="c v" style="left:1144.4px;top:1833.73px;width:144.5px;height:55.56px;">VERDE</div>
<div class="c zn" style="left:60.9px;top:1890.0px;width:119.7px;height:55.6px;">G1</div>
<div class="abs" style="left:180.6px;top:1888.98px;width:827.8px;height:55.56px;background:#99cc00;"></div>
<div class="abs" style="left:1008.3px;top:1888.98px;width:136.1px;height:55.56px;background:#ffff00;"></div>
<div class="abs" style="left:1144.4px;top:1888.98px;width:144.5px;height:55.56px;background:#99cc00;"></div>
<div class="abs" style="left:1288.9px;top:1888.98px;width:288.9px;height:55.56px;background:#cccccc;"></div>
<div class="c v" style="left:180.6px;top:1889.28px;width:172.2px;height:55.56px;">VERDE</div>
<div class="c v" style="left:352.8px;top:1889.28px;width:180.6px;height:55.56px;">VERDE</div>
<div class="c v" style="left:533.3px;top:1889.28px;width:172.2px;height:55.56px;">VERDE</div>
<div class="c v" style="left:705.6px;top:1889.28px;width:144.4px;height:55.56px;">VERDE</div>
<div class="c v" style="left:850.0px;top:1889.28px;width:158.3px;height:55.56px;">VERDE</div>
<div class="c v" style="left:1008.3px;top:1889.28px;width:136.1px;height:55.56px;">GIALLO</div>
<div class="c v" style="left:1144.4px;top:1889.28px;width:144.5px;height:55.56px;">VERDE</div>
<div class="c zn" style="left:60.9px;top:1945.5px;width:119.7px;height:55.6px;">G2</div>
<div class="abs" style="left:180.6px;top:1944.54px;width:827.8px;height:55.56px;background:#99cc00;"></div>
<div class="abs" style="left:1008.3px;top:1944.54px;width:136.1px;height:55.56px;background:#ffff00;"></div>
<div class="abs" style="left:1144.4px;top:1944.54px;width:144.5px;height:55.56px;background:#99cc00;"></div>
<div class="abs" style="left:1288.9px;top:1944.54px;width:288.9px;height:55.56px;background:#cccccc;"></div>
<div class="c v" style="left:180.6px;top:1944.84px;width:172.2px;height:55.56px;">VERDE</div>
<div class="c v" style="left:352.8px;top:1944.84px;width:180.6px;height:55.56px;">VERDE</div>
<div class="c v" style="left:533.3px;top:1944.84px;width:172.2px;height:55.56px;">VERDE</div>
<div class="c v" style="left:705.6px;top:1944.84px;width:144.4px;height:55.56px;">VERDE</div>
<div class="c v" style="left:850.0px;top:1944.84px;width:158.3px;height:55.56px;">VERDE</div>
<div class="c v" style="left:1008.3px;top:1944.84px;width:136.1px;height:55.56px;">GIALLO</div>
<div class="c v" style="left:1144.4px;top:1944.84px;width:144.5px;height:55.56px;">VERDE</div>
<div class="c zn" style="left:60.9px;top:2001.1px;width:119.7px;height:55.6px;">H1</div>
<div class="abs" style="left:180.6px;top:2000.10px;width:1108.3px;height:55.56px;background:#99cc00;"></div>
<div class="abs" style="left:1288.9px;top:2000.10px;width:288.9px;height:55.56px;background:#cccccc;"></div>
<div class="c v" style="left:180.6px;top:2000.40px;width:172.2px;height:55.56px;">VERDE</div>
<div class="c v" style="left:352.8px;top:2000.40px;width:180.6px;height:55.56px;">VERDE</div>
<div class="c v" style="left:533.3px;top:2000.40px;width:172.2px;height:55.56px;">VERDE</div>
<div class="c v" style="left:705.6px;top:2000.40px;width:144.4px;height:55.56px;">VERDE</div>
<div class="c v" style="left:850.0px;top:2000.40px;width:158.3px;height:55.56px;">VERDE</div>
<div class="c v" style="left:1008.3px;top:2000.40px;width:136.1px;height:55.56px;">VERDE</div>
<div class="c v" style="left:1144.4px;top:2000.40px;width:144.5px;height:55.56px;">VERDE</div>
<div class="c zn" style="left:60.9px;top:2056.7px;width:119.7px;height:55.6px;">H2</div>
<div class="abs" style="left:180.6px;top:2055.65px;width:1108.3px;height:55.56px;background:#99cc00;"></div>
<div class="abs" style="left:1288.9px;top:2055.65px;width:288.9px;height:55.56px;background:#cccccc;"></div>
<div class="c v" style="left:180.6px;top:2055.95px;width:172.2px;height:55.56px;">VERDE</div>
<div class="c v" style="left:352.8px;top:2055.95px;width:180.6px;height:55.56px;">VERDE</div>
<div class="c v" style="left:533.3px;top:2055.95px;width:172.2px;height:55.56px;">VERDE</div>
<div class="c v" style="left:705.6px;top:2055.95px;width:144.4px;height:55.56px;">VERDE</div>
<div class="c v" style="left:850.0px;top:2055.95px;width:158.3px;height:55.56px;">VERDE</div>
<div class="c v" style="left:1008.3px;top:2055.95px;width:136.1px;height:55.56px;">VERDE</div>
<div class="c v" style="left:1144.4px;top:2055.95px;width:144.5px;height:55.56px;">VERDE</div>
<div class="ln" style="left:59.4px;top:1109.7px;width:3px;height:1003.0px;"></div>
<div class="ln" style="left:179.1px;top:998.6px;width:3px;height:1114.1px;"></div>
<div class="ln" style="left:351.3px;top:998.6px;width:3px;height:1114.1px;"></div>
<div class="ln" style="left:531.8px;top:998.6px;width:3px;height:1114.1px;"></div>
<div class="ln" style="left:704.1px;top:998.6px;width:3px;height:1114.1px;"></div>
<div class="ln" style="left:848.5px;top:998.6px;width:3px;height:1114.1px;"></div>
<div class="ln" style="left:1006.8px;top:998.6px;width:3px;height:1114.1px;"></div>
<div class="ln" style="left:1142.9px;top:998.6px;width:3px;height:1114.1px;"></div>
<div class="ln" style="left:1287.4px;top:998.6px;width:3px;height:1114.1px;"></div>
<div class="ln" style="left:1431.8px;top:998.6px;width:3px;height:1114.1px;"></div>
<div class="ln" style="left:1576.3px;top:998.6px;width:3px;height:1114.1px;"></div>
<div class="ln" style="left:179.1px;top:998.6px;width:1400.2px;height:3px;"></div>
<div class="ln" style="left:59.4px;top:1109.70px;width:1519.9px;height:3px;"></div>
<div class="ln" style="left:59.4px;top:1165.26px;width:1519.9px;height:3px;"></div>
<div class="ln" style="left:59.4px;top:1220.81px;width:1519.9px;height:3px;"></div>
<div class="ln" style="left:59.4px;top:1276.37px;width:1519.9px;height:3px;"></div>
<div class="ln" style="left:59.4px;top:1331.92px;width:1519.9px;height:3px;"></div>
<div class="ln" style="left:59.4px;top:1387.48px;width:1519.9px;height:3px;"></div>
<div class="ln" style="left:59.4px;top:1443.04px;width:1519.9px;height:3px;"></div>
<div class="ln" style="left:59.4px;top:1498.59px;width:1519.9px;height:3px;"></div>
<div class="ln" style="left:59.4px;top:1554.15px;width:1519.9px;height:3px;"></div>
<div class="ln" style="left:59.4px;top:1609.70px;width:1519.9px;height:3px;"></div>
<div class="ln" style="left:59.4px;top:1665.26px;width:1519.9px;height:3px;"></div>
<div class="ln" style="left:59.4px;top:1720.82px;width:1519.9px;height:3px;"></div>
<div class="ln" style="left:59.4px;top:1776.37px;width:1519.9px;height:3px;"></div>
<div class="ln" style="left:59.4px;top:1831.93px;width:1519.9px;height:3px;"></div>
<div class="ln" style="left:59.4px;top:1887.48px;width:1519.9px;height:3px;"></div>
<div class="ln" style="left:59.4px;top:1943.04px;width:1519.9px;height:3px;"></div>
<div class="ln" style="left:59.4px;top:1998.60px;width:1519.9px;height:3px;"></div>
<div class="ln" style="left:59.4px;top:2054.15px;width:1519.9px;height:3px;"></div>
<div class="ln" style="left:59.4px;top:2109.71px;width:1519.9px;height:3px;"></div>
</body>
</html>
